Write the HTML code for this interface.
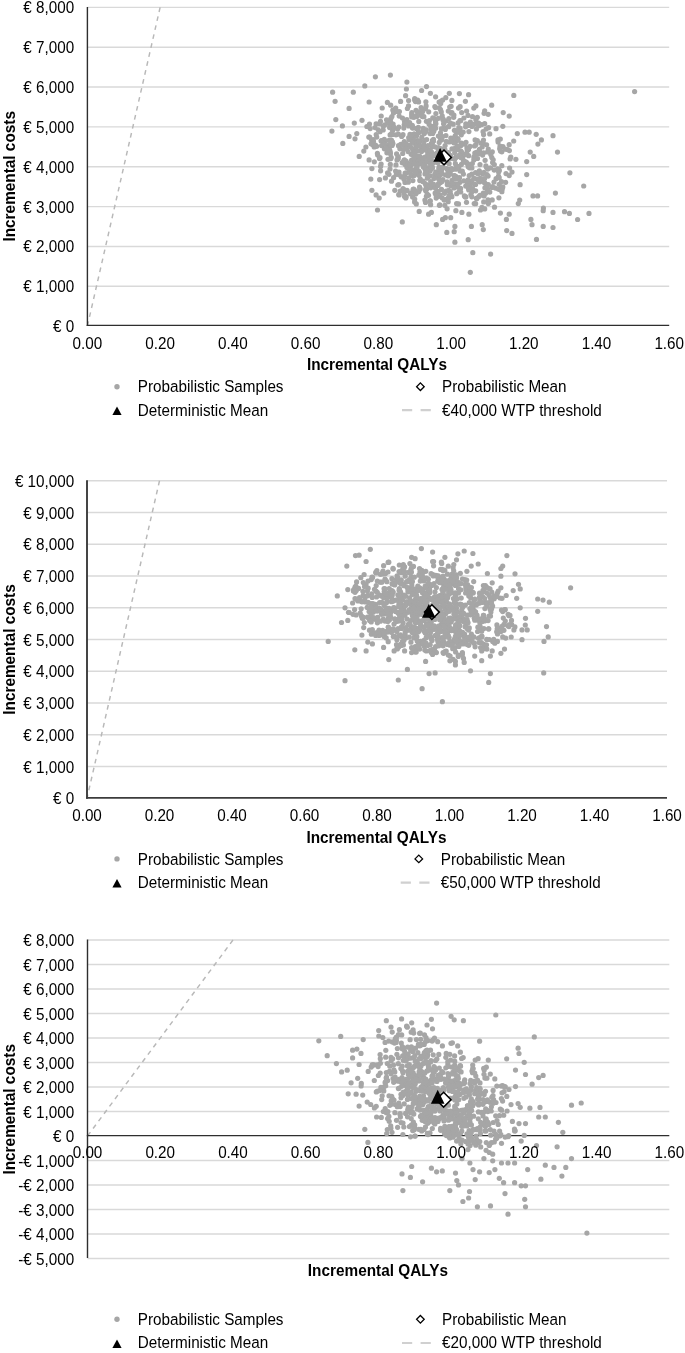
<!DOCTYPE html>
<html><head><meta charset="utf-8"><style>html,body{margin:0;padding:0;background:#fff}svg{display:block;will-change:transform}</style></head>
<body><svg width="685" height="1353" viewBox="0 0 685 1353">
<rect width="685" height="1353" fill="#fff"/>
<line x1="87.40" y1="286.26" x2="669.20" y2="286.26" stroke="#d9d9d9" stroke-width="1.4"/>
<line x1="87.40" y1="246.43" x2="669.20" y2="246.43" stroke="#d9d9d9" stroke-width="1.4"/>
<line x1="87.40" y1="206.59" x2="669.20" y2="206.59" stroke="#d9d9d9" stroke-width="1.4"/>
<line x1="87.40" y1="166.75" x2="669.20" y2="166.75" stroke="#d9d9d9" stroke-width="1.4"/>
<line x1="87.40" y1="126.91" x2="669.20" y2="126.91" stroke="#d9d9d9" stroke-width="1.4"/>
<line x1="87.40" y1="87.07" x2="669.20" y2="87.07" stroke="#d9d9d9" stroke-width="1.4"/>
<line x1="87.40" y1="47.24" x2="669.20" y2="47.24" stroke="#d9d9d9" stroke-width="1.4"/>
<line x1="87.40" y1="7.40" x2="669.20" y2="7.40" stroke="#d9d9d9" stroke-width="1.4"/>
<line x1="160.12" y1="7.40" x2="87.40" y2="326.10" stroke="#b8b8b8" stroke-width="1.45" stroke-dasharray="4.7 4.5"/>
<line x1="86.70" y1="325.40" x2="669.20" y2="325.40" stroke="#2e2e2e" stroke-width="1.4"/>
<line x1="87.40" y1="6.90" x2="87.40" y2="326.10" stroke="#2e2e2e" stroke-width="1.4"/>
<g fill="#a6a6a6"><circle cx="468.6" cy="155.7" r="2.6"/><circle cx="457.7" cy="186.9" r="2.6"/><circle cx="432.6" cy="184.6" r="2.6"/><circle cx="409.1" cy="139.7" r="2.6"/><circle cx="452.0" cy="180.4" r="2.6"/><circle cx="403.0" cy="134.7" r="2.6"/><circle cx="438.1" cy="184.2" r="2.6"/><circle cx="478.6" cy="123.1" r="2.6"/><circle cx="461.3" cy="134.8" r="2.6"/><circle cx="411.8" cy="175.5" r="2.6"/><circle cx="447.1" cy="181.9" r="2.6"/><circle cx="392.6" cy="130.6" r="2.6"/><circle cx="474.5" cy="184.3" r="2.6"/><circle cx="413.2" cy="191.6" r="2.6"/><circle cx="510.8" cy="157.0" r="2.6"/><circle cx="404.4" cy="159.8" r="2.6"/><circle cx="441.5" cy="189.4" r="2.6"/><circle cx="461.4" cy="164.4" r="2.6"/><circle cx="435.3" cy="119.6" r="2.6"/><circle cx="412.6" cy="142.3" r="2.6"/><circle cx="423.4" cy="129.4" r="2.6"/><circle cx="379.5" cy="158.6" r="2.6"/><circle cx="440.0" cy="182.7" r="2.6"/><circle cx="391.2" cy="157.4" r="2.6"/><circle cx="458.1" cy="122.9" r="2.6"/><circle cx="499.7" cy="189.6" r="2.6"/><circle cx="471.9" cy="181.2" r="2.6"/><circle cx="443.6" cy="150.1" r="2.6"/><circle cx="470.1" cy="184.2" r="2.6"/><circle cx="426.4" cy="148.1" r="2.6"/><circle cx="468.0" cy="115.4" r="2.6"/><circle cx="447.1" cy="208.8" r="2.6"/><circle cx="488.3" cy="149.0" r="2.6"/><circle cx="422.5" cy="116.6" r="2.6"/><circle cx="457.8" cy="149.5" r="2.6"/><circle cx="416.0" cy="192.4" r="2.6"/><circle cx="426.5" cy="189.3" r="2.6"/><circle cx="455.8" cy="176.3" r="2.6"/><circle cx="460.6" cy="188.4" r="2.6"/><circle cx="392.6" cy="134.4" r="2.6"/><circle cx="483.5" cy="143.8" r="2.6"/><circle cx="478.8" cy="125.7" r="2.6"/><circle cx="467.6" cy="163.7" r="2.6"/><circle cx="432.5" cy="140.3" r="2.6"/><circle cx="380.0" cy="157.7" r="2.6"/><circle cx="480.8" cy="143.0" r="2.6"/><circle cx="410.4" cy="168.5" r="2.6"/><circle cx="411.2" cy="154.3" r="2.6"/><circle cx="451.9" cy="100.4" r="2.6"/><circle cx="395.4" cy="109.6" r="2.6"/><circle cx="440.3" cy="138.1" r="2.6"/><circle cx="399.2" cy="174.8" r="2.6"/><circle cx="420.9" cy="162.6" r="2.6"/><circle cx="441.6" cy="139.4" r="2.6"/><circle cx="454.6" cy="142.4" r="2.6"/><circle cx="421.1" cy="150.4" r="2.6"/><circle cx="486.6" cy="144.8" r="2.6"/><circle cx="457.1" cy="140.6" r="2.6"/><circle cx="433.8" cy="131.3" r="2.6"/><circle cx="502.9" cy="146.5" r="2.6"/><circle cx="376.2" cy="134.6" r="2.6"/><circle cx="496.1" cy="178.7" r="2.6"/><circle cx="409.6" cy="167.6" r="2.6"/><circle cx="414.0" cy="157.7" r="2.6"/><circle cx="392.1" cy="145.4" r="2.6"/><circle cx="425.5" cy="146.3" r="2.6"/><circle cx="422.3" cy="112.0" r="2.6"/><circle cx="408.7" cy="124.5" r="2.6"/><circle cx="487.6" cy="190.0" r="2.6"/><circle cx="412.5" cy="128.1" r="2.6"/><circle cx="444.8" cy="162.5" r="2.6"/><circle cx="474.2" cy="203.6" r="2.6"/><circle cx="426.4" cy="196.3" r="2.6"/><circle cx="424.3" cy="133.6" r="2.6"/><circle cx="417.7" cy="171.8" r="2.6"/><circle cx="454.9" cy="148.3" r="2.6"/><circle cx="393.6" cy="177.7" r="2.6"/><circle cx="391.5" cy="181.2" r="2.6"/><circle cx="448.7" cy="190.4" r="2.6"/><circle cx="374.2" cy="147.0" r="2.6"/><circle cx="416.0" cy="147.2" r="2.6"/><circle cx="488.0" cy="199.8" r="2.6"/><circle cx="418.7" cy="174.8" r="2.6"/><circle cx="431.4" cy="155.6" r="2.6"/><circle cx="420.2" cy="140.9" r="2.6"/><circle cx="381.3" cy="140.7" r="2.6"/><circle cx="418.5" cy="170.9" r="2.6"/><circle cx="500.5" cy="151.1" r="2.6"/><circle cx="430.1" cy="133.6" r="2.6"/><circle cx="435.6" cy="128.2" r="2.6"/><circle cx="455.8" cy="169.2" r="2.6"/><circle cx="489.8" cy="192.1" r="2.6"/><circle cx="452.4" cy="169.5" r="2.6"/><circle cx="484.0" cy="172.3" r="2.6"/><circle cx="430.7" cy="187.8" r="2.6"/><circle cx="444.0" cy="127.7" r="2.6"/><circle cx="412.4" cy="139.4" r="2.6"/><circle cx="431.6" cy="152.2" r="2.6"/><circle cx="406.1" cy="196.8" r="2.6"/><circle cx="454.4" cy="130.3" r="2.6"/><circle cx="475.8" cy="144.7" r="2.6"/><circle cx="436.2" cy="198.1" r="2.6"/><circle cx="413.9" cy="162.2" r="2.6"/><circle cx="425.7" cy="190.7" r="2.6"/><circle cx="443.1" cy="167.1" r="2.6"/><circle cx="416.9" cy="166.9" r="2.6"/><circle cx="441.4" cy="170.4" r="2.6"/><circle cx="430.4" cy="184.3" r="2.6"/><circle cx="423.2" cy="128.4" r="2.6"/><circle cx="386.9" cy="152.8" r="2.6"/><circle cx="477.3" cy="140.7" r="2.6"/><circle cx="430.7" cy="163.9" r="2.6"/><circle cx="426.2" cy="129.8" r="2.6"/><circle cx="425.9" cy="131.6" r="2.6"/><circle cx="414.1" cy="162.3" r="2.6"/><circle cx="468.8" cy="190.0" r="2.6"/><circle cx="461.0" cy="131.9" r="2.6"/><circle cx="444.9" cy="149.6" r="2.6"/><circle cx="404.3" cy="141.7" r="2.6"/><circle cx="464.0" cy="154.7" r="2.6"/><circle cx="392.9" cy="143.6" r="2.6"/><circle cx="448.3" cy="111.1" r="2.6"/><circle cx="499.2" cy="184.3" r="2.6"/><circle cx="479.8" cy="152.0" r="2.6"/><circle cx="426.4" cy="121.3" r="2.6"/><circle cx="473.8" cy="108.1" r="2.6"/><circle cx="418.8" cy="191.6" r="2.6"/><circle cx="381.2" cy="116.0" r="2.6"/><circle cx="469.5" cy="186.6" r="2.6"/><circle cx="461.7" cy="152.6" r="2.6"/><circle cx="441.5" cy="180.8" r="2.6"/><circle cx="371.7" cy="140.3" r="2.6"/><circle cx="432.4" cy="186.2" r="2.6"/><circle cx="440.5" cy="109.5" r="2.6"/><circle cx="399.4" cy="111.5" r="2.6"/><circle cx="430.9" cy="129.4" r="2.6"/><circle cx="439.4" cy="205.3" r="2.6"/><circle cx="475.9" cy="119.7" r="2.6"/><circle cx="374.3" cy="161.8" r="2.6"/><circle cx="442.2" cy="115.9" r="2.6"/><circle cx="500.0" cy="146.2" r="2.6"/><circle cx="419.0" cy="161.1" r="2.6"/><circle cx="465.9" cy="196.9" r="2.6"/><circle cx="399.9" cy="148.8" r="2.6"/><circle cx="393.9" cy="127.8" r="2.6"/><circle cx="439.0" cy="175.9" r="2.6"/><circle cx="430.9" cy="185.9" r="2.6"/><circle cx="466.6" cy="111.0" r="2.6"/><circle cx="434.6" cy="174.8" r="2.6"/><circle cx="498.1" cy="142.1" r="2.6"/><circle cx="475.7" cy="190.8" r="2.6"/><circle cx="415.7" cy="171.3" r="2.6"/><circle cx="406.4" cy="89.0" r="2.6"/><circle cx="451.1" cy="106.3" r="2.6"/><circle cx="440.8" cy="148.7" r="2.6"/><circle cx="393.1" cy="124.0" r="2.6"/><circle cx="405.8" cy="197.9" r="2.6"/><circle cx="469.5" cy="167.8" r="2.6"/><circle cx="404.7" cy="163.2" r="2.6"/><circle cx="425.0" cy="173.9" r="2.6"/><circle cx="502.8" cy="126.3" r="2.6"/><circle cx="486.6" cy="167.5" r="2.6"/><circle cx="486.0" cy="184.1" r="2.6"/><circle cx="441.3" cy="111.9" r="2.6"/><circle cx="465.6" cy="126.8" r="2.6"/><circle cx="418.6" cy="101.9" r="2.6"/><circle cx="398.5" cy="145.7" r="2.6"/><circle cx="447.3" cy="184.8" r="2.6"/><circle cx="442.6" cy="100.0" r="2.6"/><circle cx="439.5" cy="150.2" r="2.6"/><circle cx="482.6" cy="179.2" r="2.6"/><circle cx="494.2" cy="170.1" r="2.6"/><circle cx="448.4" cy="152.5" r="2.6"/><circle cx="442.9" cy="179.7" r="2.6"/><circle cx="423.5" cy="131.9" r="2.6"/><circle cx="433.5" cy="139.3" r="2.6"/><circle cx="418.9" cy="144.8" r="2.6"/><circle cx="471.9" cy="168.0" r="2.6"/><circle cx="388.5" cy="144.9" r="2.6"/><circle cx="481.9" cy="207.3" r="2.6"/><circle cx="414.7" cy="98.7" r="2.6"/><circle cx="441.3" cy="139.9" r="2.6"/><circle cx="479.9" cy="181.8" r="2.6"/><circle cx="470.4" cy="122.2" r="2.6"/><circle cx="482.7" cy="173.9" r="2.6"/><circle cx="477.5" cy="158.5" r="2.6"/><circle cx="424.1" cy="148.6" r="2.6"/><circle cx="387.6" cy="172.9" r="2.6"/><circle cx="456.4" cy="167.5" r="2.6"/><circle cx="419.7" cy="112.6" r="2.6"/><circle cx="459.5" cy="177.7" r="2.6"/><circle cx="456.4" cy="132.2" r="2.6"/><circle cx="474.5" cy="146.0" r="2.6"/><circle cx="393.6" cy="110.0" r="2.6"/><circle cx="392.4" cy="141.8" r="2.6"/><circle cx="368.8" cy="137.0" r="2.6"/><circle cx="455.4" cy="142.0" r="2.6"/><circle cx="466.0" cy="142.3" r="2.6"/><circle cx="465.0" cy="196.8" r="2.6"/><circle cx="430.6" cy="126.0" r="2.6"/><circle cx="491.8" cy="157.6" r="2.6"/><circle cx="391.7" cy="143.8" r="2.6"/><circle cx="433.2" cy="141.1" r="2.6"/><circle cx="449.5" cy="169.4" r="2.6"/><circle cx="445.9" cy="135.5" r="2.6"/><circle cx="468.5" cy="188.4" r="2.6"/><circle cx="430.7" cy="181.6" r="2.6"/><circle cx="489.7" cy="133.9" r="2.6"/><circle cx="389.8" cy="125.3" r="2.6"/><circle cx="479.3" cy="170.8" r="2.6"/><circle cx="396.0" cy="134.8" r="2.6"/><circle cx="449.1" cy="183.8" r="2.6"/><circle cx="402.7" cy="153.5" r="2.6"/><circle cx="476.3" cy="198.3" r="2.6"/><circle cx="429.9" cy="201.2" r="2.6"/><circle cx="390.7" cy="158.7" r="2.6"/><circle cx="424.7" cy="130.3" r="2.6"/><circle cx="433.6" cy="162.8" r="2.6"/><circle cx="486.1" cy="129.0" r="2.6"/><circle cx="420.2" cy="188.9" r="2.6"/><circle cx="402.2" cy="162.7" r="2.6"/><circle cx="413.1" cy="189.3" r="2.6"/><circle cx="451.9" cy="112.5" r="2.6"/><circle cx="389.6" cy="127.6" r="2.6"/><circle cx="488.1" cy="176.1" r="2.6"/><circle cx="419.4" cy="172.1" r="2.6"/><circle cx="436.4" cy="153.6" r="2.6"/><circle cx="393.5" cy="113.0" r="2.6"/><circle cx="415.6" cy="144.3" r="2.6"/><circle cx="431.4" cy="143.4" r="2.6"/><circle cx="417.8" cy="173.8" r="2.6"/><circle cx="411.9" cy="164.1" r="2.6"/><circle cx="495.5" cy="188.1" r="2.6"/><circle cx="509.2" cy="144.7" r="2.6"/><circle cx="463.4" cy="155.1" r="2.6"/><circle cx="460.1" cy="170.9" r="2.6"/><circle cx="418.4" cy="164.0" r="2.6"/><circle cx="478.0" cy="173.8" r="2.6"/><circle cx="427.3" cy="178.2" r="2.6"/><circle cx="457.8" cy="138.6" r="2.6"/><circle cx="466.5" cy="202.3" r="2.6"/><circle cx="416.0" cy="110.3" r="2.6"/><circle cx="438.0" cy="149.0" r="2.6"/><circle cx="413.2" cy="127.7" r="2.6"/><circle cx="444.2" cy="200.1" r="2.6"/><circle cx="475.6" cy="172.6" r="2.6"/><circle cx="398.4" cy="134.2" r="2.6"/><circle cx="388.0" cy="159.3" r="2.6"/><circle cx="498.0" cy="139.9" r="2.6"/><circle cx="412.9" cy="192.2" r="2.6"/><circle cx="438.3" cy="177.7" r="2.6"/><circle cx="502.2" cy="189.0" r="2.6"/><circle cx="412.9" cy="154.4" r="2.6"/><circle cx="398.2" cy="158.8" r="2.6"/><circle cx="474.1" cy="156.7" r="2.6"/><circle cx="463.8" cy="180.8" r="2.6"/><circle cx="463.9" cy="118.0" r="2.6"/><circle cx="480.1" cy="178.3" r="2.6"/><circle cx="437.2" cy="153.1" r="2.6"/><circle cx="492.6" cy="162.5" r="2.6"/><circle cx="406.9" cy="167.6" r="2.6"/><circle cx="442.1" cy="174.0" r="2.6"/><circle cx="422.9" cy="181.2" r="2.6"/><circle cx="501.9" cy="191.7" r="2.6"/><circle cx="428.5" cy="195.3" r="2.6"/><circle cx="481.6" cy="124.6" r="2.6"/><circle cx="476.7" cy="123.9" r="2.6"/><circle cx="499.3" cy="170.4" r="2.6"/><circle cx="405.1" cy="164.5" r="2.6"/><circle cx="436.0" cy="154.5" r="2.6"/><circle cx="441.7" cy="181.8" r="2.6"/><circle cx="430.8" cy="162.7" r="2.6"/><circle cx="467.9" cy="183.7" r="2.6"/><circle cx="440.2" cy="194.8" r="2.6"/><circle cx="449.1" cy="156.6" r="2.6"/><circle cx="430.0" cy="152.7" r="2.6"/><circle cx="414.0" cy="170.2" r="2.6"/><circle cx="464.7" cy="144.2" r="2.6"/><circle cx="464.4" cy="195.8" r="2.6"/><circle cx="433.4" cy="141.1" r="2.6"/><circle cx="432.0" cy="146.8" r="2.6"/><circle cx="505.6" cy="182.3" r="2.6"/><circle cx="457.0" cy="146.0" r="2.6"/><circle cx="483.1" cy="131.7" r="2.6"/><circle cx="450.3" cy="170.9" r="2.6"/><circle cx="459.2" cy="156.6" r="2.6"/><circle cx="389.7" cy="150.0" r="2.6"/><circle cx="493.2" cy="159.8" r="2.6"/><circle cx="469.2" cy="175.5" r="2.6"/><circle cx="498.6" cy="172.0" r="2.6"/><circle cx="406.3" cy="145.3" r="2.6"/><circle cx="492.3" cy="151.8" r="2.6"/><circle cx="427.5" cy="171.9" r="2.6"/><circle cx="401.7" cy="136.5" r="2.6"/><circle cx="416.3" cy="160.4" r="2.6"/><circle cx="494.3" cy="164.6" r="2.6"/><circle cx="413.7" cy="189.0" r="2.6"/><circle cx="405.5" cy="196.6" r="2.6"/><circle cx="418.3" cy="127.3" r="2.6"/><circle cx="406.1" cy="161.1" r="2.6"/><circle cx="464.1" cy="161.1" r="2.6"/><circle cx="449.6" cy="170.0" r="2.6"/><circle cx="453.1" cy="184.2" r="2.6"/><circle cx="456.3" cy="184.2" r="2.6"/><circle cx="440.5" cy="152.7" r="2.6"/><circle cx="443.6" cy="123.7" r="2.6"/><circle cx="420.3" cy="179.2" r="2.6"/><circle cx="498.5" cy="176.1" r="2.6"/><circle cx="407.9" cy="163.3" r="2.6"/><circle cx="389.0" cy="174.3" r="2.6"/><circle cx="398.3" cy="156.5" r="2.6"/><circle cx="439.2" cy="142.4" r="2.6"/><circle cx="474.6" cy="158.6" r="2.6"/><circle cx="472.0" cy="126.5" r="2.6"/><circle cx="498.8" cy="169.9" r="2.6"/><circle cx="479.4" cy="149.4" r="2.6"/><circle cx="445.8" cy="97.7" r="2.6"/><circle cx="499.2" cy="177.7" r="2.6"/><circle cx="416.6" cy="167.6" r="2.6"/><circle cx="429.0" cy="123.9" r="2.6"/><circle cx="404.2" cy="124.8" r="2.6"/><circle cx="414.1" cy="175.5" r="2.6"/><circle cx="472.5" cy="116.7" r="2.6"/><circle cx="426.1" cy="105.9" r="2.6"/><circle cx="404.0" cy="179.3" r="2.6"/><circle cx="453.7" cy="117.3" r="2.6"/><circle cx="396.0" cy="164.9" r="2.6"/><circle cx="509.6" cy="168.1" r="2.6"/><circle cx="427.7" cy="151.8" r="2.6"/><circle cx="404.7" cy="175.5" r="2.6"/><circle cx="416.2" cy="142.8" r="2.6"/><circle cx="454.3" cy="175.8" r="2.6"/><circle cx="416.8" cy="116.6" r="2.6"/><circle cx="423.9" cy="116.7" r="2.6"/><circle cx="449.5" cy="155.0" r="2.6"/><circle cx="425.6" cy="148.5" r="2.6"/><circle cx="454.0" cy="179.2" r="2.6"/><circle cx="396.3" cy="174.3" r="2.6"/><circle cx="479.5" cy="172.3" r="2.6"/><circle cx="468.9" cy="131.6" r="2.6"/><circle cx="459.2" cy="132.3" r="2.6"/><circle cx="447.5" cy="157.7" r="2.6"/><circle cx="390.8" cy="118.6" r="2.6"/><circle cx="380.6" cy="170.8" r="2.6"/><circle cx="417.4" cy="191.9" r="2.6"/><circle cx="393.8" cy="127.0" r="2.6"/><circle cx="460.1" cy="128.3" r="2.6"/><circle cx="483.7" cy="201.9" r="2.6"/><circle cx="430.2" cy="171.0" r="2.6"/><circle cx="413.1" cy="141.6" r="2.6"/><circle cx="465.1" cy="154.6" r="2.6"/><circle cx="454.5" cy="141.1" r="2.6"/><circle cx="461.2" cy="151.9" r="2.6"/><circle cx="399.0" cy="172.1" r="2.6"/><circle cx="390.7" cy="105.2" r="2.6"/><circle cx="391.9" cy="116.5" r="2.6"/><circle cx="441.1" cy="168.7" r="2.6"/><circle cx="478.6" cy="196.8" r="2.6"/><circle cx="389.0" cy="140.3" r="2.6"/><circle cx="513.7" cy="141.0" r="2.6"/><circle cx="397.5" cy="129.1" r="2.6"/><circle cx="376.7" cy="146.3" r="2.6"/><circle cx="460.7" cy="120.7" r="2.6"/><circle cx="507.6" cy="149.5" r="2.6"/><circle cx="460.7" cy="192.0" r="2.6"/><circle cx="456.2" cy="157.2" r="2.6"/><circle cx="380.5" cy="121.3" r="2.6"/><circle cx="425.5" cy="108.4" r="2.6"/><circle cx="431.9" cy="161.0" r="2.6"/><circle cx="476.4" cy="128.9" r="2.6"/><circle cx="460.7" cy="145.8" r="2.6"/><circle cx="416.3" cy="128.5" r="2.6"/><circle cx="424.4" cy="131.5" r="2.6"/><circle cx="501.8" cy="165.7" r="2.6"/><circle cx="408.6" cy="125.9" r="2.6"/><circle cx="419.0" cy="175.3" r="2.6"/><circle cx="442.9" cy="119.7" r="2.6"/><circle cx="412.3" cy="125.3" r="2.6"/><circle cx="434.6" cy="118.5" r="2.6"/><circle cx="492.5" cy="186.5" r="2.6"/><circle cx="484.1" cy="196.0" r="2.6"/><circle cx="385.4" cy="177.9" r="2.6"/><circle cx="439.3" cy="107.8" r="2.6"/><circle cx="392.8" cy="110.0" r="2.6"/><circle cx="471.8" cy="196.8" r="2.6"/><circle cx="420.1" cy="156.6" r="2.6"/><circle cx="416.2" cy="172.2" r="2.6"/><circle cx="488.6" cy="127.7" r="2.6"/><circle cx="414.5" cy="190.2" r="2.6"/><circle cx="466.9" cy="147.9" r="2.6"/><circle cx="462.3" cy="171.2" r="2.6"/><circle cx="460.0" cy="182.3" r="2.6"/><circle cx="420.5" cy="163.8" r="2.6"/><circle cx="402.5" cy="144.2" r="2.6"/><circle cx="400.7" cy="144.3" r="2.6"/><circle cx="468.2" cy="149.1" r="2.6"/><circle cx="479.3" cy="172.4" r="2.6"/><circle cx="474.8" cy="153.0" r="2.6"/><circle cx="383.2" cy="129.9" r="2.6"/><circle cx="381.6" cy="145.6" r="2.6"/><circle cx="406.9" cy="119.5" r="2.6"/><circle cx="388.7" cy="146.9" r="2.6"/><circle cx="414.7" cy="99.9" r="2.6"/><circle cx="408.6" cy="178.2" r="2.6"/><circle cx="462.6" cy="157.7" r="2.6"/><circle cx="460.4" cy="156.8" r="2.6"/><circle cx="488.3" cy="184.5" r="2.6"/><circle cx="463.5" cy="162.0" r="2.6"/><circle cx="499.7" cy="148.8" r="2.6"/><circle cx="411.6" cy="160.2" r="2.6"/><circle cx="458.8" cy="178.0" r="2.6"/><circle cx="430.3" cy="158.8" r="2.6"/><circle cx="424.6" cy="140.5" r="2.6"/><circle cx="488.6" cy="202.4" r="2.6"/><circle cx="439.3" cy="156.3" r="2.6"/><circle cx="453.2" cy="124.2" r="2.6"/><circle cx="461.7" cy="143.9" r="2.6"/><circle cx="421.8" cy="137.2" r="2.6"/><circle cx="468.0" cy="149.6" r="2.6"/><circle cx="492.2" cy="199.9" r="2.6"/><circle cx="435.4" cy="107.6" r="2.6"/><circle cx="484.7" cy="123.7" r="2.6"/><circle cx="501.8" cy="151.8" r="2.6"/><circle cx="451.0" cy="185.7" r="2.6"/><circle cx="423.1" cy="110.6" r="2.6"/><circle cx="412.6" cy="197.0" r="2.6"/><circle cx="398.8" cy="184.6" r="2.6"/><circle cx="390.5" cy="146.1" r="2.6"/><circle cx="401.3" cy="176.9" r="2.6"/><circle cx="469.9" cy="181.1" r="2.6"/><circle cx="399.2" cy="116.1" r="2.6"/><circle cx="408.7" cy="137.5" r="2.6"/><circle cx="450.4" cy="155.5" r="2.6"/><circle cx="405.6" cy="95.7" r="2.6"/><circle cx="416.5" cy="145.5" r="2.6"/><circle cx="449.1" cy="163.7" r="2.6"/><circle cx="484.1" cy="113.3" r="2.6"/><circle cx="370.2" cy="128.6" r="2.6"/><circle cx="412.8" cy="149.7" r="2.6"/><circle cx="429.4" cy="155.9" r="2.6"/><circle cx="446.6" cy="168.5" r="2.6"/><circle cx="387.4" cy="102.4" r="2.6"/><circle cx="455.7" cy="157.3" r="2.6"/><circle cx="482.2" cy="147.0" r="2.6"/><circle cx="440.4" cy="167.6" r="2.6"/><circle cx="445.3" cy="129.5" r="2.6"/><circle cx="408.6" cy="100.6" r="2.6"/><circle cx="431.0" cy="163.9" r="2.6"/><circle cx="386.5" cy="119.8" r="2.6"/><circle cx="428.7" cy="111.8" r="2.6"/><circle cx="475.6" cy="184.5" r="2.6"/><circle cx="475.6" cy="203.7" r="2.6"/><circle cx="441.8" cy="151.4" r="2.6"/><circle cx="458.7" cy="166.5" r="2.6"/><circle cx="432.3" cy="144.0" r="2.6"/><circle cx="484.5" cy="182.7" r="2.6"/><circle cx="487.8" cy="169.1" r="2.6"/><circle cx="435.9" cy="113.5" r="2.6"/><circle cx="414.4" cy="158.7" r="2.6"/><circle cx="444.8" cy="205.3" r="2.6"/><circle cx="416.6" cy="135.7" r="2.6"/><circle cx="497.7" cy="168.8" r="2.6"/><circle cx="450.2" cy="191.3" r="2.6"/><circle cx="435.9" cy="123.8" r="2.6"/><circle cx="446.3" cy="121.0" r="2.6"/><circle cx="411.8" cy="112.6" r="2.6"/><circle cx="430.0" cy="175.8" r="2.6"/><circle cx="418.8" cy="121.4" r="2.6"/><circle cx="433.8" cy="126.2" r="2.6"/><circle cx="414.5" cy="149.9" r="2.6"/><circle cx="380.6" cy="166.4" r="2.6"/><circle cx="482.6" cy="155.1" r="2.6"/><circle cx="441.7" cy="159.6" r="2.6"/><circle cx="468.2" cy="125.5" r="2.6"/><circle cx="377.4" cy="153.4" r="2.6"/><circle cx="434.0" cy="186.4" r="2.6"/><circle cx="448.2" cy="201.7" r="2.6"/><circle cx="448.6" cy="126.5" r="2.6"/><circle cx="447.8" cy="170.2" r="2.6"/><circle cx="378.2" cy="129.8" r="2.6"/><circle cx="460.9" cy="151.2" r="2.6"/><circle cx="387.6" cy="122.7" r="2.6"/><circle cx="466.3" cy="162.2" r="2.6"/><circle cx="506.0" cy="173.6" r="2.6"/><circle cx="450.8" cy="185.7" r="2.6"/><circle cx="458.5" cy="108.1" r="2.6"/><circle cx="440.7" cy="103.5" r="2.6"/><circle cx="427.2" cy="194.1" r="2.6"/><circle cx="445.6" cy="174.9" r="2.6"/><circle cx="415.1" cy="136.1" r="2.6"/><circle cx="390.3" cy="152.0" r="2.6"/><circle cx="483.3" cy="193.0" r="2.6"/><circle cx="390.0" cy="169.1" r="2.6"/><circle cx="467.2" cy="184.5" r="2.6"/><circle cx="373.1" cy="139.5" r="2.6"/><circle cx="414.1" cy="134.1" r="2.6"/><circle cx="391.6" cy="133.7" r="2.6"/><circle cx="468.5" cy="165.7" r="2.6"/><circle cx="440.0" cy="171.5" r="2.6"/><circle cx="434.9" cy="106.6" r="2.6"/><circle cx="468.0" cy="181.3" r="2.6"/><circle cx="417.1" cy="150.9" r="2.6"/><circle cx="435.1" cy="193.0" r="2.6"/><circle cx="451.7" cy="168.6" r="2.6"/><circle cx="384.3" cy="139.4" r="2.6"/><circle cx="390.1" cy="134.9" r="2.6"/><circle cx="462.3" cy="156.8" r="2.6"/><circle cx="465.4" cy="162.1" r="2.6"/><circle cx="498.3" cy="189.0" r="2.6"/><circle cx="458.7" cy="167.2" r="2.6"/><circle cx="438.9" cy="179.5" r="2.6"/><circle cx="385.1" cy="141.1" r="2.6"/><circle cx="479.9" cy="195.4" r="2.6"/><circle cx="438.3" cy="196.4" r="2.6"/><circle cx="456.7" cy="193.7" r="2.6"/><circle cx="411.0" cy="165.1" r="2.6"/><circle cx="419.5" cy="187.2" r="2.6"/><circle cx="446.1" cy="191.0" r="2.6"/><circle cx="452.0" cy="148.9" r="2.6"/><circle cx="427.7" cy="154.7" r="2.6"/><circle cx="412.9" cy="180.6" r="2.6"/><circle cx="407.1" cy="190.4" r="2.6"/><circle cx="472.3" cy="163.5" r="2.6"/><circle cx="417.3" cy="140.6" r="2.6"/><circle cx="440.8" cy="172.8" r="2.6"/><circle cx="435.0" cy="146.8" r="2.6"/><circle cx="459.2" cy="191.1" r="2.6"/><circle cx="442.3" cy="198.0" r="2.6"/><circle cx="501.4" cy="187.3" r="2.6"/><circle cx="421.1" cy="107.7" r="2.6"/><circle cx="376.7" cy="137.1" r="2.6"/><circle cx="372.8" cy="144.8" r="2.6"/><circle cx="397.8" cy="185.0" r="2.6"/><circle cx="448.2" cy="176.0" r="2.6"/><circle cx="461.5" cy="143.0" r="2.6"/><circle cx="413.9" cy="117.3" r="2.6"/><circle cx="441.4" cy="128.9" r="2.6"/><circle cx="446.2" cy="141.3" r="2.6"/><circle cx="381.2" cy="141.1" r="2.6"/><circle cx="406.6" cy="172.8" r="2.6"/><circle cx="435.6" cy="121.9" r="2.6"/><circle cx="485.6" cy="193.2" r="2.6"/><circle cx="467.2" cy="150.6" r="2.6"/><circle cx="424.8" cy="161.6" r="2.6"/><circle cx="487.7" cy="188.9" r="2.6"/><circle cx="431.2" cy="157.6" r="2.6"/><circle cx="457.6" cy="166.5" r="2.6"/><circle cx="490.5" cy="167.8" r="2.6"/><circle cx="403.2" cy="144.8" r="2.6"/><circle cx="416.3" cy="203.9" r="2.6"/><circle cx="436.7" cy="192.2" r="2.6"/><circle cx="477.5" cy="153.4" r="2.6"/><circle cx="418.5" cy="141.0" r="2.6"/><circle cx="438.3" cy="118.3" r="2.6"/><circle cx="459.9" cy="120.5" r="2.6"/><circle cx="408.5" cy="105.9" r="2.6"/><circle cx="443.8" cy="150.3" r="2.6"/><circle cx="397.9" cy="157.1" r="2.6"/><circle cx="490.8" cy="154.5" r="2.6"/><circle cx="384.7" cy="124.9" r="2.6"/><circle cx="425.0" cy="157.2" r="2.6"/><circle cx="430.2" cy="149.9" r="2.6"/><circle cx="448.5" cy="126.7" r="2.6"/><circle cx="403.0" cy="188.5" r="2.6"/><circle cx="457.8" cy="185.0" r="2.6"/><circle cx="428.2" cy="161.7" r="2.6"/><circle cx="457.7" cy="149.2" r="2.6"/><circle cx="448.9" cy="197.6" r="2.6"/><circle cx="466.7" cy="153.2" r="2.6"/><circle cx="438.4" cy="136.1" r="2.6"/><circle cx="450.7" cy="169.9" r="2.6"/><circle cx="427.2" cy="161.5" r="2.6"/><circle cx="448.4" cy="174.2" r="2.6"/><circle cx="376.1" cy="123.8" r="2.6"/><circle cx="435.7" cy="172.2" r="2.6"/><circle cx="447.4" cy="174.5" r="2.6"/><circle cx="432.7" cy="133.4" r="2.6"/><circle cx="439.5" cy="175.2" r="2.6"/><circle cx="405.1" cy="173.1" r="2.6"/><circle cx="390.4" cy="153.8" r="2.6"/><circle cx="412.0" cy="136.3" r="2.6"/><circle cx="430.3" cy="200.8" r="2.6"/><circle cx="496.0" cy="128.7" r="2.6"/><circle cx="432.3" cy="167.1" r="2.6"/><circle cx="409.4" cy="169.5" r="2.6"/><circle cx="453.8" cy="142.8" r="2.6"/><circle cx="455.4" cy="163.7" r="2.6"/><circle cx="465.8" cy="123.8" r="2.6"/><circle cx="404.5" cy="121.5" r="2.6"/><circle cx="375.0" cy="127.6" r="2.6"/><circle cx="465.7" cy="186.1" r="2.6"/><circle cx="407.4" cy="108.5" r="2.6"/><circle cx="476.4" cy="179.1" r="2.6"/><circle cx="410.8" cy="174.1" r="2.6"/><circle cx="403.9" cy="160.7" r="2.6"/><circle cx="458.5" cy="203.9" r="2.6"/><circle cx="423.5" cy="167.3" r="2.6"/><circle cx="449.1" cy="142.0" r="2.6"/><circle cx="409.7" cy="164.7" r="2.6"/><circle cx="463.2" cy="132.0" r="2.6"/><circle cx="470.9" cy="194.6" r="2.6"/><circle cx="468.1" cy="179.8" r="2.6"/><circle cx="468.3" cy="165.1" r="2.6"/><circle cx="458.1" cy="139.7" r="2.6"/><circle cx="384.3" cy="144.1" r="2.6"/><circle cx="419.9" cy="146.3" r="2.6"/><circle cx="409.6" cy="145.2" r="2.6"/><circle cx="425.9" cy="101.8" r="2.6"/><circle cx="365.9" cy="147.0" r="2.6"/><circle cx="498.9" cy="197.8" r="2.6"/><circle cx="461.7" cy="112.6" r="2.6"/><circle cx="414.2" cy="134.0" r="2.6"/><circle cx="456.7" cy="178.9" r="2.6"/><circle cx="382.2" cy="108.0" r="2.6"/><circle cx="477.3" cy="117.3" r="2.6"/><circle cx="416.3" cy="115.5" r="2.6"/><circle cx="510.1" cy="158.9" r="2.6"/><circle cx="425.4" cy="170.3" r="2.6"/><circle cx="437.9" cy="191.3" r="2.6"/><circle cx="423.6" cy="144.4" r="2.6"/><circle cx="443.2" cy="119.2" r="2.6"/><circle cx="415.1" cy="154.4" r="2.6"/><circle cx="485.9" cy="165.9" r="2.6"/><circle cx="440.5" cy="132.8" r="2.6"/><circle cx="473.8" cy="160.1" r="2.6"/><circle cx="418.8" cy="158.6" r="2.6"/><circle cx="435.5" cy="121.6" r="2.6"/><circle cx="414.2" cy="163.4" r="2.6"/><circle cx="476.8" cy="152.8" r="2.6"/><circle cx="433.9" cy="178.4" r="2.6"/><circle cx="418.4" cy="131.2" r="2.6"/><circle cx="435.5" cy="188.3" r="2.6"/><circle cx="421.5" cy="115.8" r="2.6"/><circle cx="375.5" cy="145.0" r="2.6"/><circle cx="409.6" cy="122.6" r="2.6"/><circle cx="433.4" cy="184.1" r="2.6"/><circle cx="400.2" cy="191.0" r="2.6"/><circle cx="509.4" cy="150.6" r="2.6"/><circle cx="468.2" cy="166.7" r="2.6"/><circle cx="466.5" cy="125.1" r="2.6"/><circle cx="398.8" cy="127.0" r="2.6"/><circle cx="377.7" cy="155.1" r="2.6"/><circle cx="439.8" cy="204.9" r="2.6"/><circle cx="413.6" cy="137.0" r="2.6"/><circle cx="432.8" cy="117.8" r="2.6"/><circle cx="455.3" cy="135.5" r="2.6"/><circle cx="463.5" cy="160.7" r="2.6"/><circle cx="442.7" cy="136.5" r="2.6"/><circle cx="366.9" cy="126.5" r="2.6"/><circle cx="505.2" cy="149.2" r="2.6"/><circle cx="471.8" cy="174.2" r="2.6"/><circle cx="431.0" cy="165.8" r="2.6"/><circle cx="395.6" cy="171.0" r="2.6"/><circle cx="473.5" cy="124.4" r="2.6"/><circle cx="411.1" cy="147.3" r="2.6"/><circle cx="501.5" cy="181.6" r="2.6"/><circle cx="431.1" cy="165.6" r="2.6"/><circle cx="443.5" cy="149.2" r="2.6"/><circle cx="459.6" cy="145.8" r="2.6"/><circle cx="373.5" cy="141.4" r="2.6"/><circle cx="459.3" cy="155.0" r="2.6"/><circle cx="419.0" cy="132.6" r="2.6"/><circle cx="425.3" cy="149.9" r="2.6"/><circle cx="438.1" cy="185.5" r="2.6"/><circle cx="450.7" cy="194.3" r="2.6"/><circle cx="415.6" cy="172.1" r="2.6"/><circle cx="438.8" cy="169.1" r="2.6"/><circle cx="419.4" cy="156.4" r="2.6"/><circle cx="475.1" cy="139.9" r="2.6"/><circle cx="403.8" cy="128.1" r="2.6"/><circle cx="451.4" cy="158.5" r="2.6"/><circle cx="492.1" cy="187.5" r="2.6"/><circle cx="417.6" cy="111.8" r="2.6"/><circle cx="476.5" cy="152.4" r="2.6"/><circle cx="442.9" cy="161.8" r="2.6"/><circle cx="406.2" cy="123.2" r="2.6"/><circle cx="426.7" cy="139.5" r="2.6"/><circle cx="458.9" cy="127.7" r="2.6"/><circle cx="472.6" cy="188.5" r="2.6"/><circle cx="397.0" cy="159.9" r="2.6"/><circle cx="467.4" cy="180.8" r="2.6"/><circle cx="410.3" cy="193.8" r="2.6"/><circle cx="446.4" cy="199.3" r="2.6"/><circle cx="452.8" cy="184.8" r="2.6"/><circle cx="454.4" cy="175.7" r="2.6"/><circle cx="450.4" cy="174.1" r="2.6"/><circle cx="450.5" cy="123.0" r="2.6"/><circle cx="485.1" cy="160.3" r="2.6"/><circle cx="425.2" cy="183.6" r="2.6"/><circle cx="439.1" cy="167.2" r="2.6"/><circle cx="453.9" cy="115.1" r="2.6"/><circle cx="388.2" cy="149.8" r="2.6"/><circle cx="419.8" cy="180.6" r="2.6"/><circle cx="463.4" cy="174.1" r="2.6"/><circle cx="483.5" cy="140.0" r="2.6"/><circle cx="391.4" cy="140.0" r="2.6"/><circle cx="454.7" cy="152.8" r="2.6"/><circle cx="433.3" cy="155.8" r="2.6"/><circle cx="470.0" cy="146.4" r="2.6"/><circle cx="369.5" cy="124.1" r="2.6"/><circle cx="444.5" cy="161.4" r="2.6"/><circle cx="405.0" cy="182.5" r="2.6"/><circle cx="383.3" cy="126.1" r="2.6"/><circle cx="402.5" cy="118.0" r="2.6"/><circle cx="442.4" cy="167.8" r="2.6"/><circle cx="384.4" cy="148.8" r="2.6"/><circle cx="449.7" cy="107.1" r="2.6"/><circle cx="408.1" cy="151.6" r="2.6"/><circle cx="451.9" cy="196.7" r="2.6"/><circle cx="450.8" cy="138.1" r="2.6"/><circle cx="494.0" cy="182.1" r="2.6"/><circle cx="463.5" cy="161.1" r="2.6"/><circle cx="381.1" cy="164.1" r="2.6"/><circle cx="449.1" cy="195.4" r="2.6"/><circle cx="400.6" cy="101.4" r="2.6"/><circle cx="417.7" cy="100.2" r="2.6"/><circle cx="448.5" cy="198.0" r="2.6"/><circle cx="448.9" cy="118.5" r="2.6"/><circle cx="380.0" cy="131.7" r="2.6"/><circle cx="478.7" cy="180.8" r="2.6"/><circle cx="471.9" cy="191.7" r="2.6"/><circle cx="438.5" cy="147.6" r="2.6"/><circle cx="415.5" cy="101.6" r="2.6"/><circle cx="453.2" cy="138.2" r="2.6"/><circle cx="406.0" cy="143.9" r="2.6"/><circle cx="424.9" cy="200.0" r="2.6"/><circle cx="454.7" cy="159.2" r="2.6"/><circle cx="394.8" cy="190.3" r="2.6"/><circle cx="422.0" cy="158.4" r="2.6"/><circle cx="437.5" cy="160.5" r="2.6"/><circle cx="404.5" cy="196.5" r="2.6"/><circle cx="474.0" cy="157.7" r="2.6"/><circle cx="427.6" cy="168.1" r="2.6"/><circle cx="425.5" cy="202.5" r="2.6"/><circle cx="426.1" cy="173.4" r="2.6"/><circle cx="390.9" cy="144.0" r="2.6"/><circle cx="411.7" cy="114.5" r="2.6"/><circle cx="429.4" cy="120.5" r="2.6"/><circle cx="445.1" cy="153.1" r="2.6"/><circle cx="435.9" cy="194.8" r="2.6"/><circle cx="469.8" cy="123.3" r="2.6"/><circle cx="473.8" cy="178.2" r="2.6"/><circle cx="430.6" cy="204.7" r="2.6"/><circle cx="451.2" cy="141.3" r="2.6"/><circle cx="468.4" cy="149.5" r="2.6"/><circle cx="458.2" cy="130.0" r="2.6"/><circle cx="421.5" cy="151.5" r="2.6"/><circle cx="411.7" cy="116.9" r="2.6"/><circle cx="412.4" cy="170.0" r="2.6"/><circle cx="426.3" cy="186.2" r="2.6"/><circle cx="369.7" cy="137.2" r="2.6"/><circle cx="425.6" cy="189.4" r="2.6"/><circle cx="451.3" cy="113.2" r="2.6"/><circle cx="371.0" cy="143.8" r="2.6"/><circle cx="415.7" cy="193.9" r="2.6"/><circle cx="396.6" cy="153.8" r="2.6"/><circle cx="390.6" cy="121.9" r="2.6"/><circle cx="437.9" cy="162.8" r="2.6"/><circle cx="396.8" cy="111.4" r="2.6"/><circle cx="487.6" cy="151.9" r="2.6"/><circle cx="425.1" cy="165.2" r="2.6"/><circle cx="444.5" cy="193.3" r="2.6"/><circle cx="487.0" cy="174.6" r="2.6"/><circle cx="483.6" cy="134.6" r="2.6"/><circle cx="379.6" cy="123.7" r="2.6"/><circle cx="484.6" cy="178.5" r="2.6"/><circle cx="476.7" cy="198.7" r="2.6"/><circle cx="379.6" cy="179.6" r="2.6"/><circle cx="410.0" cy="134.3" r="2.6"/><circle cx="454.0" cy="187.9" r="2.6"/><circle cx="418.6" cy="156.2" r="2.6"/><circle cx="429.0" cy="158.6" r="2.6"/><circle cx="500.3" cy="139.0" r="2.6"/><circle cx="432.4" cy="168.3" r="2.6"/><circle cx="390.3" cy="164.4" r="2.6"/><circle cx="460.1" cy="106.7" r="2.6"/><circle cx="441.1" cy="171.7" r="2.6"/><circle cx="428.3" cy="176.8" r="2.6"/><circle cx="488.2" cy="114.3" r="2.6"/><circle cx="478.3" cy="153.9" r="2.6"/><circle cx="483.6" cy="152.8" r="2.6"/><circle cx="425.9" cy="184.5" r="2.6"/><circle cx="484.9" cy="187.8" r="2.6"/><circle cx="422.9" cy="181.6" r="2.6"/><circle cx="502.8" cy="186.9" r="2.6"/><circle cx="480.0" cy="164.6" r="2.6"/><circle cx="386.3" cy="148.0" r="2.6"/><circle cx="461.3" cy="157.7" r="2.6"/><circle cx="399.1" cy="194.9" r="2.6"/><circle cx="515.9" cy="159.3" r="2.6"/><circle cx="403.5" cy="149.4" r="2.6"/><circle cx="414.7" cy="199.0" r="2.6"/><circle cx="445.1" cy="145.5" r="2.6"/><circle cx="411.9" cy="134.8" r="2.6"/><circle cx="406.5" cy="148.7" r="2.6"/><circle cx="395.7" cy="108.0" r="2.6"/><circle cx="431.3" cy="168.2" r="2.6"/><circle cx="404.3" cy="189.9" r="2.6"/><circle cx="408.3" cy="182.2" r="2.6"/><circle cx="428.0" cy="145.5" r="2.6"/><circle cx="375.4" cy="76.8" r="2.6"/><circle cx="390.4" cy="75.1" r="2.6"/><circle cx="364.8" cy="85.9" r="2.6"/><circle cx="406.9" cy="82.1" r="2.6"/><circle cx="426.5" cy="86.6" r="2.6"/><circle cx="421.6" cy="90.5" r="2.6"/><circle cx="332.6" cy="92.2" r="2.6"/><circle cx="353.3" cy="92.2" r="2.6"/><circle cx="335.1" cy="101.3" r="2.6"/><circle cx="349.1" cy="108.4" r="2.6"/><circle cx="369.1" cy="102.0" r="2.6"/><circle cx="513.8" cy="95.4" r="2.6"/><circle cx="468.6" cy="94.7" r="2.6"/><circle cx="459.4" cy="93.6" r="2.6"/><circle cx="449.3" cy="93.3" r="2.6"/><circle cx="465.4" cy="101.3" r="2.6"/><circle cx="475.9" cy="105.9" r="2.6"/><circle cx="491.7" cy="105.2" r="2.6"/><circle cx="484.7" cy="110.8" r="2.6"/><circle cx="503.2" cy="112.6" r="2.6"/><circle cx="509.2" cy="116.1" r="2.6"/><circle cx="430.4" cy="93.3" r="2.6"/><circle cx="435.6" cy="96.8" r="2.6"/><circle cx="439.1" cy="102.0" r="2.6"/><circle cx="440.9" cy="101.3" r="2.6"/><circle cx="335.8" cy="119.6" r="2.6"/><circle cx="331.9" cy="131.1" r="2.6"/><circle cx="342.4" cy="125.9" r="2.6"/><circle cx="342.8" cy="143.4" r="2.6"/><circle cx="349.1" cy="136.4" r="2.6"/><circle cx="355.0" cy="138.8" r="2.6"/><circle cx="354.3" cy="123.1" r="2.6"/><circle cx="356.8" cy="133.6" r="2.6"/><circle cx="362.0" cy="120.3" r="2.6"/><circle cx="359.2" cy="156.4" r="2.6"/><circle cx="363.8" cy="151.1" r="2.6"/><circle cx="369.1" cy="159.9" r="2.6"/><circle cx="371.9" cy="168.6" r="2.6"/><circle cx="370.8" cy="179.1" r="2.6"/><circle cx="371.9" cy="190.3" r="2.6"/><circle cx="376.1" cy="194.9" r="2.6"/><circle cx="383.8" cy="193.1" r="2.6"/><circle cx="379.2" cy="198.0" r="2.6"/><circle cx="377.5" cy="210.0" r="2.6"/><circle cx="402.3" cy="221.9" r="2.6"/><circle cx="517.3" cy="133.6" r="2.6"/><circle cx="525.0" cy="132.2" r="2.6"/><circle cx="529.2" cy="132.2" r="2.6"/><circle cx="536.2" cy="134.3" r="2.6"/><circle cx="541.4" cy="139.9" r="2.6"/><circle cx="537.9" cy="144.1" r="2.6"/><circle cx="553.0" cy="135.7" r="2.6"/><circle cx="530.2" cy="152.1" r="2.6"/><circle cx="533.7" cy="156.4" r="2.6"/><circle cx="526.7" cy="161.6" r="2.6"/><circle cx="557.5" cy="152.1" r="2.6"/><circle cx="512.0" cy="172.1" r="2.6"/><circle cx="509.2" cy="175.6" r="2.6"/><circle cx="526.7" cy="174.6" r="2.6"/><circle cx="520.1" cy="184.7" r="2.6"/><circle cx="533.0" cy="195.9" r="2.6"/><circle cx="537.6" cy="195.9" r="2.6"/><circle cx="519.7" cy="200.1" r="2.6"/><circle cx="518.3" cy="203.6" r="2.6"/><circle cx="543.2" cy="210.7" r="2.6"/><circle cx="553.0" cy="212.4" r="2.6"/><circle cx="555.4" cy="193.1" r="2.6"/><circle cx="543.2" cy="226.4" r="2.6"/><circle cx="553.0" cy="227.5" r="2.6"/><circle cx="530.9" cy="219.4" r="2.6"/><circle cx="532.0" cy="224.7" r="2.6"/><circle cx="536.5" cy="239.4" r="2.6"/><circle cx="512.0" cy="233.4" r="2.6"/><circle cx="506.7" cy="230.6" r="2.6"/><circle cx="506.4" cy="219.4" r="2.6"/><circle cx="509.2" cy="214.2" r="2.6"/><circle cx="500.4" cy="213.1" r="2.6"/><circle cx="494.5" cy="207.2" r="2.6"/><circle cx="484.7" cy="208.9" r="2.6"/><circle cx="480.5" cy="210.0" r="2.6"/><circle cx="488.2" cy="203.6" r="2.6"/><circle cx="454.9" cy="242.2" r="2.6"/><circle cx="468.2" cy="239.7" r="2.6"/><circle cx="472.8" cy="252.7" r="2.6"/><circle cx="490.6" cy="254.1" r="2.6"/><circle cx="470.3" cy="272.3" r="2.6"/><circle cx="482.2" cy="224.7" r="2.6"/><circle cx="483.3" cy="229.6" r="2.6"/><circle cx="471.4" cy="226.4" r="2.6"/><circle cx="454.9" cy="226.4" r="2.6"/><circle cx="454.2" cy="231.7" r="2.6"/><circle cx="446.8" cy="232.4" r="2.6"/><circle cx="436.3" cy="224.7" r="2.6"/><circle cx="428.6" cy="214.2" r="2.6"/><circle cx="431.4" cy="212.4" r="2.6"/><circle cx="419.2" cy="211.4" r="2.6"/><circle cx="414.6" cy="201.9" r="2.6"/><circle cx="404.1" cy="193.1" r="2.6"/><circle cx="410.4" cy="193.1" r="2.6"/><circle cx="398.8" cy="194.5" r="2.6"/><circle cx="442.6" cy="219.4" r="2.6"/><circle cx="445.4" cy="217.7" r="2.6"/><circle cx="450.7" cy="217.7" r="2.6"/><circle cx="455.9" cy="210.7" r="2.6"/><circle cx="461.9" cy="212.4" r="2.6"/><circle cx="468.9" cy="214.2" r="2.6"/><circle cx="456.6" cy="203.6" r="2.6"/><circle cx="569.9" cy="172.8" r="2.6"/><circle cx="583.7" cy="186.0" r="2.6"/><circle cx="564.5" cy="211.7" r="2.6"/><circle cx="569.4" cy="213.4" r="2.6"/><circle cx="589.0" cy="213.4" r="2.6"/><circle cx="577.6" cy="219.5" r="2.6"/><circle cx="543.4" cy="208.0" r="2.6"/><circle cx="634.6" cy="91.6" r="2.6"/></g>
<path d="M444.0 150.0L451.4 157.4L444.0 164.8L436.6 157.4Z" fill="#fff" stroke="#000" stroke-width="1.5"/>
<path d="M440.12 148.02L446.92 161.82L433.32 161.82Z" fill="#000"/>
<circle cx="117" cy="386.70" r="2.7" fill="#a6a6a6"/>
<path d="M117 406.60L121.6 415.10L112.4 415.10Z" fill="#000"/>
<path d="M420.4 382.90L424.20 386.70L420.4 390.50L416.60 386.70Z" fill="#fff" stroke="#000" stroke-width="1.3"/>
<line x1="402.0" y1="410.20" x2="431.00" y2="410.20" stroke="#d0d0d0" stroke-width="2.2" stroke-dasharray="10.2 8.4"/>
<g font-family="Liberation Sans, sans-serif" font-size="15.25" fill="#000"><text transform="translate(74.20 332.10) scale(1 1.03)" text-anchor="end">€ 0</text><text transform="translate(74.20 292.26) scale(1 1.03)" text-anchor="end">€ 1,000</text><text transform="translate(74.20 252.43) scale(1 1.03)" text-anchor="end">€ 2,000</text><text transform="translate(74.20 212.59) scale(1 1.03)" text-anchor="end">€ 3,000</text><text transform="translate(74.20 172.75) scale(1 1.03)" text-anchor="end">€ 4,000</text><text transform="translate(74.20 132.91) scale(1 1.03)" text-anchor="end">€ 5,000</text><text transform="translate(74.20 93.07) scale(1 1.03)" text-anchor="end">€ 6,000</text><text transform="translate(74.20 53.24) scale(1 1.03)" text-anchor="end">€ 7,000</text><text transform="translate(74.20 13.40) scale(1 1.03)" text-anchor="end">€ 8,000</text><text transform="translate(87.40 348.60) scale(1 1.03)" text-anchor="middle">0.00</text><text transform="translate(160.12 348.60) scale(1 1.03)" text-anchor="middle">0.20</text><text transform="translate(232.85 348.60) scale(1 1.03)" text-anchor="middle">0.40</text><text transform="translate(305.58 348.60) scale(1 1.03)" text-anchor="middle">0.60</text><text transform="translate(378.30 348.60) scale(1 1.03)" text-anchor="middle">0.80</text><text transform="translate(451.02 348.60) scale(1 1.03)" text-anchor="middle">1.00</text><text transform="translate(523.75 348.60) scale(1 1.03)" text-anchor="middle">1.20</text><text transform="translate(596.48 348.60) scale(1 1.03)" text-anchor="middle">1.40</text><text transform="translate(669.20 348.60) scale(1 1.03)" text-anchor="middle">1.60</text><text transform="translate(377.00 370.20) scale(1 1.03)" text-anchor="middle" font-weight="bold" font-size="15.35">Incremental QALYs</text><text transform="translate(14.60 176.30) rotate(-90) scale(1 1.03)" text-anchor="middle" font-weight="bold" font-size="15.35">Incremental costs</text><text transform="translate(137.80 392.30) scale(1 1.03)">Probabilistic Samples</text><text transform="translate(137.80 415.60) scale(1 1.03)">Deterministic Mean</text><text transform="translate(442.00 392.30) scale(1 1.03)">Probabilistic Mean</text><text transform="translate(442.00 415.60) scale(1 1.03)">€40,000 WTP threshold</text></g>
<line x1="87.00" y1="766.50" x2="667.00" y2="766.50" stroke="#d9d9d9" stroke-width="1.4"/>
<line x1="87.00" y1="734.75" x2="667.00" y2="734.75" stroke="#d9d9d9" stroke-width="1.4"/>
<line x1="87.00" y1="703.00" x2="667.00" y2="703.00" stroke="#d9d9d9" stroke-width="1.4"/>
<line x1="87.00" y1="671.25" x2="667.00" y2="671.25" stroke="#d9d9d9" stroke-width="1.4"/>
<line x1="87.00" y1="639.50" x2="667.00" y2="639.50" stroke="#d9d9d9" stroke-width="1.4"/>
<line x1="87.00" y1="607.75" x2="667.00" y2="607.75" stroke="#d9d9d9" stroke-width="1.4"/>
<line x1="87.00" y1="576.00" x2="667.00" y2="576.00" stroke="#d9d9d9" stroke-width="1.4"/>
<line x1="87.00" y1="544.25" x2="667.00" y2="544.25" stroke="#d9d9d9" stroke-width="1.4"/>
<line x1="87.00" y1="512.50" x2="667.00" y2="512.50" stroke="#d9d9d9" stroke-width="1.4"/>
<line x1="87.00" y1="480.75" x2="667.00" y2="480.75" stroke="#d9d9d9" stroke-width="1.4"/>
<line x1="159.50" y1="480.75" x2="87.00" y2="798.25" stroke="#b8b8b8" stroke-width="1.45" stroke-dasharray="4.7 4.5"/>
<line x1="86.05" y1="797.90" x2="667.00" y2="797.90" stroke="#3c3c3c" stroke-width="1.9"/>
<line x1="87.00" y1="480.25" x2="87.00" y2="798.85" stroke="#3c3c3c" stroke-width="1.9"/>
<g fill="#a6a6a6"><circle cx="427.7" cy="645.5" r="2.6"/><circle cx="462.1" cy="634.9" r="2.6"/><circle cx="367.2" cy="607.4" r="2.6"/><circle cx="473.9" cy="610.3" r="2.6"/><circle cx="471.7" cy="609.1" r="2.6"/><circle cx="456.2" cy="632.7" r="2.6"/><circle cx="412.2" cy="594.6" r="2.6"/><circle cx="422.7" cy="591.0" r="2.6"/><circle cx="400.7" cy="601.6" r="2.6"/><circle cx="394.5" cy="636.3" r="2.6"/><circle cx="402.9" cy="566.4" r="2.6"/><circle cx="416.6" cy="617.3" r="2.6"/><circle cx="403.4" cy="614.1" r="2.6"/><circle cx="511.7" cy="624.5" r="2.6"/><circle cx="471.8" cy="606.7" r="2.6"/><circle cx="455.3" cy="631.2" r="2.6"/><circle cx="453.4" cy="598.5" r="2.6"/><circle cx="448.2" cy="643.3" r="2.6"/><circle cx="455.7" cy="581.0" r="2.6"/><circle cx="356.6" cy="581.9" r="2.6"/><circle cx="413.5" cy="604.8" r="2.6"/><circle cx="425.7" cy="633.2" r="2.6"/><circle cx="484.5" cy="618.6" r="2.6"/><circle cx="456.2" cy="574.9" r="2.6"/><circle cx="373.9" cy="618.8" r="2.6"/><circle cx="458.6" cy="635.0" r="2.6"/><circle cx="455.3" cy="636.9" r="2.6"/><circle cx="448.9" cy="630.7" r="2.6"/><circle cx="417.3" cy="620.0" r="2.6"/><circle cx="431.6" cy="585.6" r="2.6"/><circle cx="436.4" cy="587.6" r="2.6"/><circle cx="412.9" cy="606.2" r="2.6"/><circle cx="430.2" cy="644.7" r="2.6"/><circle cx="426.9" cy="602.4" r="2.6"/><circle cx="458.3" cy="655.0" r="2.6"/><circle cx="388.1" cy="562.4" r="2.6"/><circle cx="403.7" cy="607.3" r="2.6"/><circle cx="422.0" cy="590.9" r="2.6"/><circle cx="369.5" cy="630.2" r="2.6"/><circle cx="439.8" cy="598.2" r="2.6"/><circle cx="442.1" cy="623.6" r="2.6"/><circle cx="396.7" cy="631.5" r="2.6"/><circle cx="423.0" cy="572.6" r="2.6"/><circle cx="443.1" cy="645.8" r="2.6"/><circle cx="448.7" cy="618.4" r="2.6"/><circle cx="466.1" cy="624.3" r="2.6"/><circle cx="375.5" cy="604.3" r="2.6"/><circle cx="487.4" cy="573.5" r="2.6"/><circle cx="410.1" cy="581.4" r="2.6"/><circle cx="381.5" cy="614.3" r="2.6"/><circle cx="442.5" cy="621.2" r="2.6"/><circle cx="361.5" cy="601.5" r="2.6"/><circle cx="443.9" cy="642.2" r="2.6"/><circle cx="458.9" cy="638.4" r="2.6"/><circle cx="478.5" cy="638.2" r="2.6"/><circle cx="390.5" cy="612.9" r="2.6"/><circle cx="446.8" cy="602.1" r="2.6"/><circle cx="424.0" cy="640.4" r="2.6"/><circle cx="477.4" cy="603.8" r="2.6"/><circle cx="440.4" cy="619.4" r="2.6"/><circle cx="397.3" cy="649.0" r="2.6"/><circle cx="411.1" cy="627.9" r="2.6"/><circle cx="455.7" cy="585.4" r="2.6"/><circle cx="414.6" cy="614.3" r="2.6"/><circle cx="433.3" cy="610.1" r="2.6"/><circle cx="413.6" cy="631.8" r="2.6"/><circle cx="488.6" cy="628.8" r="2.6"/><circle cx="394.0" cy="624.1" r="2.6"/><circle cx="430.8" cy="626.2" r="2.6"/><circle cx="387.2" cy="601.5" r="2.6"/><circle cx="467.6" cy="644.5" r="2.6"/><circle cx="454.4" cy="602.4" r="2.6"/><circle cx="422.0" cy="599.7" r="2.6"/><circle cx="435.0" cy="591.8" r="2.6"/><circle cx="388.4" cy="617.9" r="2.6"/><circle cx="496.9" cy="624.9" r="2.6"/><circle cx="437.7" cy="581.0" r="2.6"/><circle cx="371.3" cy="579.6" r="2.6"/><circle cx="412.7" cy="614.7" r="2.6"/><circle cx="434.8" cy="619.5" r="2.6"/><circle cx="403.3" cy="564.7" r="2.6"/><circle cx="411.6" cy="647.7" r="2.6"/><circle cx="428.3" cy="609.1" r="2.6"/><circle cx="369.1" cy="611.6" r="2.6"/><circle cx="449.9" cy="641.4" r="2.6"/><circle cx="455.0" cy="647.7" r="2.6"/><circle cx="445.7" cy="613.8" r="2.6"/><circle cx="437.6" cy="640.1" r="2.6"/><circle cx="422.2" cy="591.6" r="2.6"/><circle cx="456.3" cy="604.0" r="2.6"/><circle cx="461.3" cy="615.3" r="2.6"/><circle cx="430.1" cy="627.6" r="2.6"/><circle cx="438.9" cy="616.0" r="2.6"/><circle cx="402.4" cy="641.7" r="2.6"/><circle cx="485.4" cy="585.5" r="2.6"/><circle cx="467.6" cy="638.9" r="2.6"/><circle cx="397.8" cy="594.8" r="2.6"/><circle cx="437.4" cy="596.7" r="2.6"/><circle cx="355.0" cy="598.5" r="2.6"/><circle cx="391.3" cy="610.7" r="2.6"/><circle cx="429.0" cy="588.8" r="2.6"/><circle cx="412.8" cy="631.8" r="2.6"/><circle cx="434.5" cy="649.1" r="2.6"/><circle cx="427.3" cy="625.7" r="2.6"/><circle cx="442.5" cy="577.2" r="2.6"/><circle cx="474.3" cy="618.2" r="2.6"/><circle cx="422.0" cy="643.9" r="2.6"/><circle cx="437.0" cy="635.6" r="2.6"/><circle cx="466.4" cy="621.7" r="2.6"/><circle cx="464.4" cy="637.1" r="2.6"/><circle cx="365.1" cy="602.0" r="2.6"/><circle cx="422.5" cy="598.6" r="2.6"/><circle cx="355.0" cy="592.3" r="2.6"/><circle cx="443.7" cy="617.4" r="2.6"/><circle cx="498.2" cy="591.0" r="2.6"/><circle cx="401.7" cy="600.6" r="2.6"/><circle cx="444.1" cy="606.0" r="2.6"/><circle cx="474.3" cy="643.0" r="2.6"/><circle cx="372.2" cy="597.5" r="2.6"/><circle cx="395.7" cy="600.2" r="2.6"/><circle cx="440.6" cy="569.4" r="2.6"/><circle cx="444.8" cy="608.8" r="2.6"/><circle cx="441.1" cy="624.9" r="2.6"/><circle cx="398.8" cy="605.1" r="2.6"/><circle cx="400.9" cy="583.8" r="2.6"/><circle cx="458.6" cy="629.3" r="2.6"/><circle cx="385.3" cy="579.9" r="2.6"/><circle cx="465.4" cy="605.1" r="2.6"/><circle cx="426.3" cy="578.0" r="2.6"/><circle cx="464.6" cy="634.0" r="2.6"/><circle cx="451.3" cy="593.0" r="2.6"/><circle cx="369.6" cy="620.4" r="2.6"/><circle cx="448.6" cy="643.7" r="2.6"/><circle cx="426.2" cy="606.4" r="2.6"/><circle cx="441.7" cy="580.0" r="2.6"/><circle cx="390.5" cy="631.8" r="2.6"/><circle cx="369.6" cy="608.0" r="2.6"/><circle cx="463.5" cy="618.5" r="2.6"/><circle cx="447.4" cy="574.2" r="2.6"/><circle cx="422.0" cy="601.9" r="2.6"/><circle cx="455.6" cy="624.8" r="2.6"/><circle cx="415.2" cy="591.1" r="2.6"/><circle cx="426.9" cy="592.6" r="2.6"/><circle cx="503.9" cy="630.3" r="2.6"/><circle cx="414.5" cy="590.0" r="2.6"/><circle cx="379.6" cy="602.6" r="2.6"/><circle cx="489.3" cy="639.5" r="2.6"/><circle cx="426.6" cy="616.5" r="2.6"/><circle cx="492.6" cy="606.1" r="2.6"/><circle cx="407.1" cy="619.1" r="2.6"/><circle cx="446.6" cy="623.3" r="2.6"/><circle cx="413.7" cy="628.3" r="2.6"/><circle cx="447.5" cy="597.7" r="2.6"/><circle cx="413.4" cy="602.9" r="2.6"/><circle cx="490.5" cy="616.0" r="2.6"/><circle cx="476.2" cy="605.0" r="2.6"/><circle cx="471.4" cy="591.5" r="2.6"/><circle cx="467.5" cy="584.6" r="2.6"/><circle cx="425.2" cy="602.9" r="2.6"/><circle cx="425.2" cy="586.2" r="2.6"/><circle cx="501.5" cy="627.8" r="2.6"/><circle cx="442.0" cy="582.9" r="2.6"/><circle cx="449.9" cy="660.8" r="2.6"/><circle cx="393.2" cy="569.1" r="2.6"/><circle cx="455.0" cy="612.8" r="2.6"/><circle cx="386.7" cy="611.1" r="2.6"/><circle cx="401.7" cy="636.5" r="2.6"/><circle cx="411.4" cy="572.1" r="2.6"/><circle cx="425.7" cy="593.5" r="2.6"/><circle cx="496.9" cy="596.2" r="2.6"/><circle cx="425.5" cy="602.5" r="2.6"/><circle cx="439.9" cy="617.6" r="2.6"/><circle cx="379.7" cy="608.4" r="2.6"/><circle cx="421.8" cy="570.4" r="2.6"/><circle cx="400.0" cy="616.2" r="2.6"/><circle cx="420.9" cy="625.6" r="2.6"/><circle cx="362.3" cy="618.3" r="2.6"/><circle cx="453.1" cy="659.3" r="2.6"/><circle cx="483.4" cy="585.6" r="2.6"/><circle cx="444.7" cy="637.0" r="2.6"/><circle cx="468.8" cy="595.9" r="2.6"/><circle cx="455.4" cy="608.2" r="2.6"/><circle cx="383.3" cy="619.1" r="2.6"/><circle cx="444.1" cy="579.2" r="2.6"/><circle cx="460.9" cy="641.7" r="2.6"/><circle cx="431.2" cy="622.4" r="2.6"/><circle cx="449.0" cy="594.0" r="2.6"/><circle cx="444.9" cy="606.5" r="2.6"/><circle cx="430.0" cy="613.0" r="2.6"/><circle cx="415.2" cy="646.7" r="2.6"/><circle cx="437.6" cy="632.1" r="2.6"/><circle cx="385.0" cy="579.2" r="2.6"/><circle cx="465.5" cy="641.5" r="2.6"/><circle cx="434.0" cy="609.1" r="2.6"/><circle cx="388.3" cy="593.1" r="2.6"/><circle cx="353.4" cy="591.0" r="2.6"/><circle cx="415.6" cy="598.8" r="2.6"/><circle cx="438.0" cy="634.7" r="2.6"/><circle cx="441.4" cy="611.9" r="2.6"/><circle cx="422.1" cy="589.4" r="2.6"/><circle cx="432.8" cy="604.9" r="2.6"/><circle cx="412.2" cy="632.4" r="2.6"/><circle cx="484.6" cy="620.9" r="2.6"/><circle cx="435.5" cy="628.6" r="2.6"/><circle cx="480.6" cy="647.5" r="2.6"/><circle cx="393.3" cy="600.9" r="2.6"/><circle cx="442.9" cy="621.4" r="2.6"/><circle cx="384.5" cy="593.9" r="2.6"/><circle cx="429.9" cy="592.5" r="2.6"/><circle cx="431.6" cy="638.7" r="2.6"/><circle cx="415.2" cy="611.8" r="2.6"/><circle cx="411.0" cy="611.9" r="2.6"/><circle cx="396.2" cy="621.6" r="2.6"/><circle cx="399.3" cy="588.5" r="2.6"/><circle cx="411.2" cy="576.9" r="2.6"/><circle cx="457.7" cy="581.8" r="2.6"/><circle cx="353.7" cy="590.4" r="2.6"/><circle cx="411.1" cy="608.5" r="2.6"/><circle cx="375.7" cy="635.4" r="2.6"/><circle cx="491.6" cy="608.7" r="2.6"/><circle cx="356.1" cy="614.9" r="2.6"/><circle cx="419.7" cy="649.1" r="2.6"/><circle cx="434.1" cy="608.2" r="2.6"/><circle cx="466.9" cy="571.3" r="2.6"/><circle cx="514.9" cy="626.9" r="2.6"/><circle cx="439.5" cy="582.6" r="2.6"/><circle cx="393.0" cy="568.4" r="2.6"/><circle cx="399.9" cy="615.0" r="2.6"/><circle cx="419.6" cy="629.7" r="2.6"/><circle cx="455.9" cy="635.6" r="2.6"/><circle cx="427.3" cy="617.0" r="2.6"/><circle cx="392.3" cy="590.8" r="2.6"/><circle cx="466.0" cy="589.0" r="2.6"/><circle cx="471.8" cy="641.6" r="2.6"/><circle cx="388.3" cy="627.3" r="2.6"/><circle cx="387.7" cy="620.1" r="2.6"/><circle cx="389.4" cy="620.0" r="2.6"/><circle cx="432.9" cy="574.7" r="2.6"/><circle cx="441.4" cy="595.2" r="2.6"/><circle cx="417.5" cy="630.3" r="2.6"/><circle cx="401.3" cy="579.9" r="2.6"/><circle cx="403.2" cy="595.6" r="2.6"/><circle cx="454.8" cy="612.5" r="2.6"/><circle cx="405.7" cy="596.3" r="2.6"/><circle cx="384.2" cy="613.9" r="2.6"/><circle cx="409.6" cy="588.2" r="2.6"/><circle cx="428.3" cy="579.2" r="2.6"/><circle cx="391.5" cy="632.3" r="2.6"/><circle cx="421.7" cy="589.5" r="2.6"/><circle cx="467.3" cy="628.7" r="2.6"/><circle cx="406.7" cy="630.2" r="2.6"/><circle cx="455.8" cy="605.6" r="2.6"/><circle cx="442.6" cy="644.1" r="2.6"/><circle cx="447.5" cy="597.5" r="2.6"/><circle cx="427.1" cy="615.0" r="2.6"/><circle cx="353.0" cy="614.3" r="2.6"/><circle cx="497.2" cy="628.9" r="2.6"/><circle cx="395.4" cy="619.3" r="2.6"/><circle cx="406.6" cy="581.9" r="2.6"/><circle cx="458.8" cy="646.5" r="2.6"/><circle cx="433.9" cy="607.1" r="2.6"/><circle cx="465.1" cy="626.8" r="2.6"/><circle cx="445.8" cy="601.6" r="2.6"/><circle cx="441.0" cy="631.0" r="2.6"/><circle cx="394.9" cy="619.1" r="2.6"/><circle cx="433.6" cy="561.5" r="2.6"/><circle cx="423.9" cy="580.9" r="2.6"/><circle cx="414.5" cy="618.8" r="2.6"/><circle cx="453.8" cy="564.6" r="2.6"/><circle cx="458.5" cy="588.7" r="2.6"/><circle cx="368.1" cy="588.2" r="2.6"/><circle cx="502.7" cy="611.6" r="2.6"/><circle cx="413.9" cy="650.3" r="2.6"/><circle cx="416.4" cy="613.9" r="2.6"/><circle cx="508.9" cy="626.6" r="2.6"/><circle cx="479.5" cy="597.2" r="2.6"/><circle cx="354.6" cy="609.6" r="2.6"/><circle cx="479.7" cy="603.1" r="2.6"/><circle cx="386.9" cy="612.2" r="2.6"/><circle cx="375.3" cy="607.8" r="2.6"/><circle cx="455.5" cy="595.9" r="2.6"/><circle cx="387.1" cy="596.2" r="2.6"/><circle cx="372.0" cy="577.0" r="2.6"/><circle cx="465.2" cy="622.4" r="2.6"/><circle cx="361.9" cy="601.8" r="2.6"/><circle cx="449.1" cy="637.6" r="2.6"/><circle cx="457.7" cy="643.6" r="2.6"/><circle cx="426.5" cy="610.7" r="2.6"/><circle cx="416.9" cy="647.5" r="2.6"/><circle cx="387.1" cy="631.5" r="2.6"/><circle cx="465.3" cy="636.7" r="2.6"/><circle cx="504.8" cy="609.7" r="2.6"/><circle cx="413.5" cy="566.4" r="2.6"/><circle cx="440.8" cy="602.3" r="2.6"/><circle cx="463.0" cy="605.7" r="2.6"/><circle cx="416.6" cy="595.4" r="2.6"/><circle cx="428.3" cy="583.8" r="2.6"/><circle cx="473.7" cy="581.6" r="2.6"/><circle cx="453.4" cy="641.6" r="2.6"/><circle cx="483.6" cy="615.3" r="2.6"/><circle cx="430.0" cy="623.3" r="2.6"/><circle cx="434.3" cy="649.3" r="2.6"/><circle cx="401.5" cy="626.8" r="2.6"/><circle cx="421.3" cy="578.6" r="2.6"/><circle cx="448.7" cy="592.6" r="2.6"/><circle cx="429.5" cy="586.3" r="2.6"/><circle cx="368.0" cy="581.1" r="2.6"/><circle cx="458.3" cy="622.7" r="2.6"/><circle cx="438.3" cy="575.8" r="2.6"/><circle cx="484.5" cy="587.5" r="2.6"/><circle cx="474.8" cy="620.2" r="2.6"/><circle cx="409.6" cy="597.9" r="2.6"/><circle cx="494.2" cy="598.7" r="2.6"/><circle cx="451.3" cy="620.8" r="2.6"/><circle cx="467.6" cy="621.9" r="2.6"/><circle cx="384.1" cy="588.6" r="2.6"/><circle cx="420.3" cy="641.3" r="2.6"/><circle cx="429.5" cy="588.9" r="2.6"/><circle cx="444.8" cy="570.2" r="2.6"/><circle cx="435.6" cy="646.7" r="2.6"/><circle cx="501.5" cy="610.0" r="2.6"/><circle cx="431.8" cy="649.6" r="2.6"/><circle cx="405.9" cy="627.7" r="2.6"/><circle cx="420.7" cy="625.5" r="2.6"/><circle cx="415.1" cy="634.2" r="2.6"/><circle cx="438.5" cy="641.8" r="2.6"/><circle cx="435.4" cy="608.7" r="2.6"/><circle cx="410.6" cy="620.7" r="2.6"/><circle cx="425.0" cy="598.4" r="2.6"/><circle cx="449.4" cy="582.0" r="2.6"/><circle cx="486.7" cy="587.4" r="2.6"/><circle cx="405.7" cy="638.0" r="2.6"/><circle cx="433.7" cy="611.6" r="2.6"/><circle cx="392.0" cy="583.7" r="2.6"/><circle cx="394.7" cy="619.0" r="2.6"/><circle cx="389.1" cy="608.3" r="2.6"/><circle cx="381.9" cy="610.4" r="2.6"/><circle cx="358.6" cy="588.4" r="2.6"/><circle cx="436.7" cy="600.4" r="2.6"/><circle cx="381.8" cy="602.3" r="2.6"/><circle cx="397.0" cy="648.4" r="2.6"/><circle cx="444.2" cy="600.2" r="2.6"/><circle cx="410.9" cy="642.2" r="2.6"/><circle cx="398.8" cy="606.8" r="2.6"/><circle cx="453.1" cy="567.8" r="2.6"/><circle cx="454.4" cy="642.3" r="2.6"/><circle cx="402.8" cy="596.2" r="2.6"/><circle cx="386.9" cy="581.7" r="2.6"/><circle cx="408.3" cy="624.4" r="2.6"/><circle cx="450.8" cy="621.0" r="2.6"/><circle cx="469.8" cy="593.5" r="2.6"/><circle cx="379.0" cy="608.2" r="2.6"/><circle cx="451.7" cy="574.4" r="2.6"/><circle cx="404.3" cy="611.2" r="2.6"/><circle cx="380.4" cy="574.3" r="2.6"/><circle cx="417.5" cy="615.4" r="2.6"/><circle cx="396.5" cy="644.7" r="2.6"/><circle cx="455.7" cy="618.1" r="2.6"/><circle cx="462.5" cy="607.5" r="2.6"/><circle cx="390.9" cy="590.3" r="2.6"/><circle cx="447.2" cy="625.6" r="2.6"/><circle cx="451.0" cy="590.3" r="2.6"/><circle cx="416.6" cy="621.9" r="2.6"/><circle cx="481.8" cy="636.0" r="2.6"/><circle cx="416.2" cy="652.0" r="2.6"/><circle cx="408.6" cy="572.4" r="2.6"/><circle cx="432.9" cy="598.3" r="2.6"/><circle cx="411.7" cy="604.7" r="2.6"/><circle cx="375.7" cy="572.4" r="2.6"/><circle cx="448.3" cy="655.0" r="2.6"/><circle cx="434.1" cy="583.6" r="2.6"/><circle cx="484.3" cy="648.7" r="2.6"/><circle cx="435.4" cy="602.9" r="2.6"/><circle cx="446.4" cy="582.0" r="2.6"/><circle cx="462.4" cy="652.5" r="2.6"/><circle cx="395.5" cy="611.4" r="2.6"/><circle cx="496.3" cy="596.6" r="2.6"/><circle cx="426.3" cy="651.0" r="2.6"/><circle cx="417.5" cy="641.1" r="2.6"/><circle cx="412.3" cy="615.1" r="2.6"/><circle cx="426.7" cy="602.5" r="2.6"/><circle cx="372.9" cy="603.7" r="2.6"/><circle cx="394.7" cy="585.0" r="2.6"/><circle cx="461.5" cy="604.6" r="2.6"/><circle cx="494.3" cy="595.9" r="2.6"/><circle cx="425.0" cy="599.8" r="2.6"/><circle cx="364.3" cy="622.5" r="2.6"/><circle cx="376.2" cy="572.9" r="2.6"/><circle cx="399.3" cy="618.7" r="2.6"/><circle cx="434.7" cy="618.2" r="2.6"/><circle cx="440.1" cy="607.0" r="2.6"/><circle cx="394.5" cy="607.8" r="2.6"/><circle cx="501.5" cy="627.5" r="2.6"/><circle cx="458.6" cy="626.0" r="2.6"/><circle cx="488.7" cy="602.7" r="2.6"/><circle cx="417.5" cy="588.8" r="2.6"/><circle cx="435.6" cy="601.1" r="2.6"/><circle cx="419.9" cy="621.2" r="2.6"/><circle cx="409.4" cy="579.5" r="2.6"/><circle cx="407.9" cy="591.9" r="2.6"/><circle cx="446.2" cy="651.1" r="2.6"/><circle cx="423.6" cy="578.7" r="2.6"/><circle cx="372.7" cy="607.7" r="2.6"/><circle cx="451.0" cy="621.9" r="2.6"/><circle cx="410.5" cy="604.3" r="2.6"/><circle cx="368.3" cy="617.8" r="2.6"/><circle cx="442.8" cy="614.7" r="2.6"/><circle cx="451.6" cy="583.9" r="2.6"/><circle cx="442.0" cy="589.4" r="2.6"/><circle cx="505.7" cy="638.1" r="2.6"/><circle cx="468.6" cy="590.0" r="2.6"/><circle cx="403.7" cy="607.1" r="2.6"/><circle cx="417.7" cy="628.7" r="2.6"/><circle cx="396.9" cy="639.7" r="2.6"/><circle cx="413.9" cy="637.9" r="2.6"/><circle cx="430.6" cy="637.0" r="2.6"/><circle cx="446.4" cy="589.0" r="2.6"/><circle cx="433.6" cy="565.8" r="2.6"/><circle cx="442.3" cy="599.6" r="2.6"/><circle cx="417.2" cy="641.1" r="2.6"/><circle cx="405.2" cy="634.8" r="2.6"/><circle cx="406.0" cy="605.0" r="2.6"/><circle cx="380.2" cy="582.2" r="2.6"/><circle cx="407.9" cy="612.3" r="2.6"/><circle cx="374.7" cy="607.1" r="2.6"/><circle cx="393.2" cy="592.0" r="2.6"/><circle cx="385.1" cy="588.8" r="2.6"/><circle cx="422.6" cy="593.0" r="2.6"/><circle cx="377.4" cy="622.8" r="2.6"/><circle cx="371.9" cy="609.2" r="2.6"/><circle cx="469.3" cy="627.9" r="2.6"/><circle cx="412.3" cy="609.4" r="2.6"/><circle cx="433.5" cy="629.1" r="2.6"/><circle cx="511.2" cy="637.0" r="2.6"/><circle cx="443.2" cy="594.2" r="2.6"/><circle cx="457.5" cy="612.2" r="2.6"/><circle cx="444.0" cy="585.5" r="2.6"/><circle cx="446.0" cy="586.2" r="2.6"/><circle cx="447.9" cy="595.8" r="2.6"/><circle cx="363.1" cy="595.4" r="2.6"/><circle cx="414.7" cy="627.7" r="2.6"/><circle cx="469.3" cy="602.6" r="2.6"/><circle cx="408.8" cy="630.2" r="2.6"/><circle cx="383.8" cy="598.0" r="2.6"/><circle cx="414.4" cy="603.6" r="2.6"/><circle cx="421.8" cy="607.4" r="2.6"/><circle cx="425.2" cy="632.8" r="2.6"/><circle cx="379.0" cy="630.0" r="2.6"/><circle cx="480.5" cy="619.1" r="2.6"/><circle cx="400.6" cy="581.2" r="2.6"/><circle cx="403.9" cy="595.2" r="2.6"/><circle cx="355.0" cy="587.2" r="2.6"/><circle cx="414.3" cy="631.7" r="2.6"/><circle cx="420.3" cy="598.5" r="2.6"/><circle cx="359.5" cy="597.7" r="2.6"/><circle cx="436.1" cy="628.2" r="2.6"/><circle cx="362.9" cy="591.3" r="2.6"/><circle cx="443.4" cy="587.8" r="2.6"/><circle cx="458.1" cy="620.6" r="2.6"/><circle cx="466.9" cy="591.9" r="2.6"/><circle cx="491.6" cy="601.0" r="2.6"/><circle cx="380.6" cy="634.6" r="2.6"/><circle cx="428.5" cy="597.0" r="2.6"/><circle cx="415.9" cy="589.2" r="2.6"/><circle cx="450.1" cy="620.6" r="2.6"/><circle cx="439.1" cy="597.6" r="2.6"/><circle cx="481.7" cy="631.2" r="2.6"/><circle cx="424.4" cy="606.5" r="2.6"/><circle cx="492.2" cy="582.8" r="2.6"/><circle cx="451.7" cy="642.9" r="2.6"/><circle cx="459.3" cy="630.9" r="2.6"/><circle cx="505.3" cy="621.1" r="2.6"/><circle cx="472.3" cy="614.1" r="2.6"/><circle cx="488.7" cy="628.9" r="2.6"/><circle cx="459.5" cy="584.0" r="2.6"/><circle cx="432.4" cy="584.6" r="2.6"/><circle cx="428.9" cy="588.0" r="2.6"/><circle cx="479.5" cy="593.2" r="2.6"/><circle cx="425.5" cy="601.9" r="2.6"/><circle cx="402.4" cy="599.5" r="2.6"/><circle cx="403.9" cy="640.5" r="2.6"/><circle cx="370.0" cy="616.5" r="2.6"/><circle cx="464.8" cy="579.6" r="2.6"/><circle cx="399.8" cy="635.5" r="2.6"/><circle cx="442.0" cy="637.7" r="2.6"/><circle cx="384.1" cy="636.4" r="2.6"/><circle cx="391.3" cy="595.8" r="2.6"/><circle cx="459.2" cy="619.1" r="2.6"/><circle cx="492.7" cy="641.4" r="2.6"/><circle cx="409.9" cy="563.5" r="2.6"/><circle cx="376.0" cy="591.2" r="2.6"/><circle cx="450.0" cy="645.2" r="2.6"/><circle cx="386.2" cy="603.1" r="2.6"/><circle cx="382.7" cy="572.3" r="2.6"/><circle cx="434.7" cy="596.7" r="2.6"/><circle cx="411.4" cy="567.9" r="2.6"/><circle cx="443.8" cy="622.1" r="2.6"/><circle cx="426.5" cy="624.0" r="2.6"/><circle cx="503.3" cy="618.1" r="2.6"/><circle cx="440.5" cy="597.1" r="2.6"/><circle cx="460.2" cy="604.2" r="2.6"/><circle cx="389.2" cy="588.6" r="2.6"/><circle cx="405.2" cy="576.2" r="2.6"/><circle cx="496.7" cy="631.8" r="2.6"/><circle cx="441.7" cy="599.4" r="2.6"/><circle cx="449.0" cy="624.9" r="2.6"/><circle cx="464.8" cy="639.6" r="2.6"/><circle cx="458.6" cy="583.7" r="2.6"/><circle cx="416.0" cy="608.3" r="2.6"/><circle cx="447.5" cy="632.6" r="2.6"/><circle cx="473.3" cy="612.7" r="2.6"/><circle cx="434.5" cy="604.6" r="2.6"/><circle cx="435.0" cy="605.7" r="2.6"/><circle cx="460.8" cy="633.1" r="2.6"/><circle cx="394.5" cy="582.9" r="2.6"/><circle cx="420.0" cy="571.9" r="2.6"/><circle cx="424.5" cy="595.8" r="2.6"/><circle cx="473.6" cy="605.6" r="2.6"/><circle cx="455.2" cy="592.8" r="2.6"/><circle cx="426.9" cy="595.7" r="2.6"/><circle cx="418.0" cy="645.1" r="2.6"/><circle cx="411.4" cy="609.3" r="2.6"/><circle cx="442.9" cy="570.5" r="2.6"/><circle cx="423.3" cy="641.5" r="2.6"/><circle cx="441.5" cy="615.7" r="2.6"/><circle cx="509.0" cy="615.7" r="2.6"/><circle cx="360.2" cy="613.2" r="2.6"/><circle cx="382.0" cy="612.4" r="2.6"/><circle cx="482.2" cy="621.6" r="2.6"/><circle cx="438.1" cy="642.3" r="2.6"/><circle cx="371.2" cy="613.7" r="2.6"/><circle cx="398.7" cy="647.0" r="2.6"/><circle cx="387.7" cy="632.1" r="2.6"/><circle cx="442.9" cy="580.1" r="2.6"/><circle cx="414.3" cy="577.2" r="2.6"/><circle cx="450.0" cy="584.0" r="2.6"/><circle cx="352.6" cy="603.0" r="2.6"/><circle cx="485.4" cy="602.4" r="2.6"/><circle cx="425.8" cy="571.3" r="2.6"/><circle cx="443.6" cy="604.1" r="2.6"/><circle cx="414.5" cy="632.9" r="2.6"/><circle cx="474.2" cy="600.2" r="2.6"/><circle cx="363.7" cy="627.6" r="2.6"/><circle cx="408.1" cy="589.4" r="2.6"/><circle cx="371.4" cy="634.2" r="2.6"/><circle cx="401.7" cy="604.9" r="2.6"/><circle cx="408.9" cy="610.2" r="2.6"/><circle cx="466.7" cy="580.1" r="2.6"/><circle cx="445.2" cy="627.9" r="2.6"/><circle cx="441.7" cy="563.4" r="2.6"/><circle cx="425.4" cy="597.7" r="2.6"/><circle cx="510.0" cy="615.4" r="2.6"/><circle cx="419.5" cy="568.5" r="2.6"/><circle cx="371.7" cy="593.9" r="2.6"/><circle cx="417.0" cy="630.0" r="2.6"/><circle cx="442.7" cy="639.8" r="2.6"/><circle cx="449.7" cy="604.1" r="2.6"/><circle cx="392.3" cy="594.9" r="2.6"/><circle cx="466.2" cy="590.2" r="2.6"/><circle cx="472.7" cy="637.0" r="2.6"/><circle cx="403.6" cy="606.3" r="2.6"/><circle cx="448.3" cy="566.2" r="2.6"/><circle cx="491.0" cy="598.3" r="2.6"/><circle cx="472.6" cy="603.6" r="2.6"/><circle cx="393.0" cy="628.8" r="2.6"/><circle cx="490.2" cy="609.5" r="2.6"/><circle cx="366.0" cy="584.5" r="2.6"/><circle cx="406.5" cy="601.8" r="2.6"/><circle cx="383.0" cy="633.9" r="2.6"/><circle cx="411.0" cy="590.0" r="2.6"/><circle cx="416.3" cy="611.9" r="2.6"/><circle cx="438.8" cy="645.8" r="2.6"/><circle cx="387.9" cy="610.6" r="2.6"/><circle cx="388.2" cy="641.7" r="2.6"/><circle cx="465.1" cy="643.8" r="2.6"/><circle cx="379.1" cy="635.5" r="2.6"/><circle cx="390.7" cy="616.9" r="2.6"/><circle cx="435.6" cy="652.3" r="2.6"/><circle cx="455.5" cy="585.4" r="2.6"/><circle cx="446.9" cy="608.5" r="2.6"/><circle cx="438.7" cy="609.9" r="2.6"/><circle cx="402.2" cy="626.7" r="2.6"/><circle cx="461.7" cy="610.0" r="2.6"/><circle cx="398.7" cy="598.6" r="2.6"/><circle cx="398.1" cy="628.8" r="2.6"/><circle cx="429.4" cy="620.1" r="2.6"/><circle cx="433.2" cy="615.1" r="2.6"/><circle cx="482.7" cy="596.9" r="2.6"/><circle cx="449.5" cy="627.5" r="2.6"/><circle cx="461.2" cy="605.1" r="2.6"/><circle cx="413.0" cy="616.7" r="2.6"/><circle cx="367.5" cy="617.0" r="2.6"/><circle cx="432.0" cy="640.4" r="2.6"/><circle cx="419.1" cy="630.9" r="2.6"/><circle cx="364.5" cy="586.6" r="2.6"/><circle cx="463.5" cy="658.4" r="2.6"/><circle cx="360.8" cy="577.7" r="2.6"/><circle cx="483.8" cy="591.4" r="2.6"/><circle cx="438.5" cy="626.0" r="2.6"/><circle cx="448.7" cy="606.3" r="2.6"/><circle cx="442.8" cy="638.4" r="2.6"/><circle cx="435.5" cy="609.6" r="2.6"/><circle cx="377.3" cy="620.3" r="2.6"/><circle cx="433.3" cy="576.0" r="2.6"/><circle cx="415.7" cy="589.4" r="2.6"/><circle cx="384.2" cy="591.5" r="2.6"/><circle cx="456.6" cy="577.8" r="2.6"/><circle cx="404.2" cy="606.6" r="2.6"/><circle cx="383.0" cy="571.1" r="2.6"/><circle cx="355.8" cy="586.2" r="2.6"/><circle cx="384.3" cy="635.0" r="2.6"/><circle cx="451.6" cy="630.6" r="2.6"/><circle cx="426.2" cy="637.7" r="2.6"/><circle cx="398.2" cy="621.1" r="2.6"/><circle cx="469.9" cy="608.5" r="2.6"/><circle cx="382.6" cy="630.4" r="2.6"/><circle cx="483.9" cy="628.5" r="2.6"/><circle cx="373.1" cy="612.2" r="2.6"/><circle cx="441.0" cy="630.8" r="2.6"/><circle cx="427.7" cy="625.1" r="2.6"/><circle cx="451.4" cy="577.3" r="2.6"/><circle cx="436.6" cy="575.8" r="2.6"/><circle cx="421.9" cy="614.4" r="2.6"/><circle cx="419.7" cy="587.8" r="2.6"/><circle cx="444.1" cy="630.5" r="2.6"/><circle cx="438.0" cy="599.6" r="2.6"/><circle cx="418.0" cy="632.1" r="2.6"/><circle cx="456.9" cy="632.0" r="2.6"/><circle cx="433.2" cy="629.5" r="2.6"/><circle cx="416.9" cy="636.7" r="2.6"/><circle cx="456.5" cy="636.3" r="2.6"/><circle cx="462.6" cy="632.4" r="2.6"/><circle cx="397.1" cy="575.9" r="2.6"/><circle cx="438.7" cy="601.3" r="2.6"/><circle cx="465.6" cy="593.0" r="2.6"/><circle cx="410.8" cy="569.9" r="2.6"/><circle cx="426.2" cy="600.5" r="2.6"/><circle cx="483.4" cy="615.4" r="2.6"/><circle cx="480.3" cy="629.9" r="2.6"/><circle cx="504.0" cy="624.4" r="2.6"/><circle cx="398.0" cy="628.9" r="2.6"/><circle cx="411.8" cy="589.6" r="2.6"/><circle cx="454.3" cy="618.0" r="2.6"/><circle cx="427.4" cy="613.2" r="2.6"/><circle cx="425.9" cy="594.5" r="2.6"/><circle cx="392.2" cy="601.1" r="2.6"/><circle cx="471.0" cy="611.7" r="2.6"/><circle cx="489.2" cy="595.6" r="2.6"/><circle cx="438.5" cy="608.8" r="2.6"/><circle cx="430.1" cy="635.3" r="2.6"/><circle cx="430.0" cy="630.5" r="2.6"/><circle cx="399.1" cy="590.3" r="2.6"/><circle cx="454.1" cy="618.8" r="2.6"/><circle cx="439.8" cy="608.0" r="2.6"/><circle cx="460.0" cy="631.4" r="2.6"/><circle cx="471.4" cy="640.5" r="2.6"/><circle cx="379.8" cy="595.0" r="2.6"/><circle cx="467.4" cy="615.2" r="2.6"/><circle cx="376.3" cy="619.4" r="2.6"/><circle cx="502.0" cy="626.3" r="2.6"/><circle cx="458.3" cy="656.4" r="2.6"/><circle cx="429.9" cy="599.1" r="2.6"/><circle cx="371.1" cy="609.3" r="2.6"/><circle cx="403.9" cy="585.7" r="2.6"/><circle cx="404.0" cy="584.2" r="2.6"/><circle cx="455.7" cy="595.8" r="2.6"/><circle cx="386.2" cy="637.9" r="2.6"/><circle cx="373.6" cy="617.5" r="2.6"/><circle cx="381.3" cy="596.1" r="2.6"/><circle cx="403.8" cy="572.8" r="2.6"/><circle cx="403.4" cy="644.9" r="2.6"/><circle cx="483.0" cy="590.3" r="2.6"/><circle cx="490.4" cy="597.7" r="2.6"/><circle cx="420.4" cy="610.2" r="2.6"/><circle cx="415.3" cy="613.8" r="2.6"/><circle cx="410.3" cy="624.8" r="2.6"/><circle cx="471.4" cy="587.6" r="2.6"/><circle cx="417.8" cy="586.1" r="2.6"/><circle cx="403.1" cy="622.9" r="2.6"/><circle cx="444.6" cy="582.0" r="2.6"/><circle cx="457.8" cy="617.2" r="2.6"/><circle cx="486.9" cy="593.1" r="2.6"/><circle cx="454.5" cy="639.2" r="2.6"/><circle cx="429.8" cy="612.1" r="2.6"/><circle cx="424.4" cy="631.4" r="2.6"/><circle cx="412.4" cy="581.4" r="2.6"/><circle cx="415.4" cy="622.1" r="2.6"/><circle cx="475.6" cy="611.8" r="2.6"/><circle cx="456.5" cy="608.2" r="2.6"/><circle cx="377.8" cy="632.3" r="2.6"/><circle cx="431.1" cy="573.5" r="2.6"/><circle cx="424.8" cy="650.0" r="2.6"/><circle cx="446.4" cy="607.3" r="2.6"/><circle cx="438.3" cy="577.5" r="2.6"/><circle cx="455.4" cy="627.5" r="2.6"/><circle cx="439.7" cy="619.8" r="2.6"/><circle cx="408.5" cy="590.0" r="2.6"/><circle cx="416.3" cy="622.1" r="2.6"/><circle cx="371.4" cy="606.8" r="2.6"/><circle cx="497.5" cy="633.9" r="2.6"/><circle cx="418.2" cy="647.0" r="2.6"/><circle cx="458.1" cy="622.3" r="2.6"/><circle cx="377.3" cy="592.3" r="2.6"/><circle cx="410.6" cy="591.3" r="2.6"/><circle cx="483.7" cy="644.4" r="2.6"/><circle cx="392.6" cy="584.1" r="2.6"/><circle cx="367.4" cy="590.9" r="2.6"/><circle cx="490.0" cy="588.8" r="2.6"/><circle cx="431.7" cy="639.6" r="2.6"/><circle cx="364.9" cy="598.5" r="2.6"/><circle cx="389.9" cy="613.0" r="2.6"/><circle cx="452.7" cy="648.7" r="2.6"/><circle cx="490.9" cy="612.1" r="2.6"/><circle cx="428.6" cy="588.5" r="2.6"/><circle cx="400.1" cy="617.7" r="2.6"/><circle cx="376.3" cy="608.2" r="2.6"/><circle cx="424.3" cy="646.2" r="2.6"/><circle cx="480.6" cy="637.2" r="2.6"/><circle cx="371.2" cy="622.0" r="2.6"/><circle cx="450.6" cy="584.3" r="2.6"/><circle cx="440.8" cy="601.3" r="2.6"/><circle cx="388.1" cy="614.0" r="2.6"/><circle cx="400.7" cy="571.6" r="2.6"/><circle cx="413.4" cy="614.9" r="2.6"/><circle cx="473.7" cy="643.0" r="2.6"/><circle cx="415.7" cy="622.9" r="2.6"/><circle cx="443.1" cy="576.0" r="2.6"/><circle cx="387.9" cy="608.9" r="2.6"/><circle cx="418.8" cy="575.2" r="2.6"/><circle cx="386.5" cy="608.3" r="2.6"/><circle cx="361.4" cy="615.9" r="2.6"/><circle cx="461.2" cy="598.1" r="2.6"/><circle cx="477.9" cy="627.2" r="2.6"/><circle cx="461.4" cy="613.9" r="2.6"/><circle cx="455.8" cy="606.9" r="2.6"/><circle cx="455.3" cy="600.3" r="2.6"/><circle cx="412.6" cy="615.5" r="2.6"/><circle cx="432.0" cy="608.6" r="2.6"/><circle cx="391.4" cy="601.7" r="2.6"/><circle cx="470.6" cy="614.8" r="2.6"/><circle cx="442.9" cy="593.5" r="2.6"/><circle cx="491.6" cy="603.8" r="2.6"/><circle cx="452.8" cy="609.9" r="2.6"/><circle cx="392.5" cy="600.7" r="2.6"/><circle cx="479.9" cy="623.0" r="2.6"/><circle cx="386.6" cy="631.3" r="2.6"/><circle cx="465.0" cy="584.3" r="2.6"/><circle cx="441.4" cy="615.4" r="2.6"/><circle cx="382.8" cy="574.0" r="2.6"/><circle cx="481.9" cy="636.7" r="2.6"/><circle cx="415.5" cy="618.9" r="2.6"/><circle cx="449.8" cy="581.6" r="2.6"/><circle cx="479.0" cy="642.5" r="2.6"/><circle cx="452.4" cy="578.6" r="2.6"/><circle cx="399.1" cy="636.0" r="2.6"/><circle cx="400.7" cy="572.3" r="2.6"/><circle cx="384.9" cy="621.1" r="2.6"/><circle cx="371.8" cy="607.5" r="2.6"/><circle cx="435.8" cy="613.4" r="2.6"/><circle cx="376.2" cy="585.5" r="2.6"/><circle cx="470.7" cy="598.0" r="2.6"/><circle cx="405.1" cy="632.0" r="2.6"/><circle cx="446.6" cy="611.4" r="2.6"/><circle cx="400.6" cy="644.4" r="2.6"/><circle cx="384.0" cy="633.0" r="2.6"/><circle cx="480.2" cy="626.6" r="2.6"/><circle cx="450.3" cy="579.7" r="2.6"/><circle cx="473.1" cy="592.6" r="2.6"/><circle cx="446.3" cy="620.9" r="2.6"/><circle cx="396.9" cy="636.8" r="2.6"/><circle cx="469.8" cy="639.9" r="2.6"/><circle cx="436.4" cy="652.6" r="2.6"/><circle cx="468.0" cy="622.8" r="2.6"/><circle cx="507.9" cy="625.7" r="2.6"/><circle cx="428.7" cy="589.4" r="2.6"/><circle cx="428.2" cy="584.1" r="2.6"/><circle cx="361.2" cy="608.8" r="2.6"/><circle cx="415.8" cy="628.4" r="2.6"/><circle cx="486.5" cy="644.8" r="2.6"/><circle cx="404.8" cy="605.5" r="2.6"/><circle cx="413.4" cy="616.9" r="2.6"/><circle cx="372.6" cy="577.4" r="2.6"/><circle cx="428.5" cy="612.9" r="2.6"/><circle cx="427.2" cy="618.9" r="2.6"/><circle cx="398.9" cy="614.0" r="2.6"/><circle cx="420.3" cy="581.1" r="2.6"/><circle cx="423.4" cy="598.4" r="2.6"/><circle cx="441.0" cy="631.5" r="2.6"/><circle cx="384.0" cy="605.5" r="2.6"/><circle cx="376.5" cy="596.9" r="2.6"/><circle cx="430.6" cy="631.9" r="2.6"/><circle cx="388.5" cy="629.5" r="2.6"/><circle cx="420.4" cy="600.1" r="2.6"/><circle cx="414.1" cy="589.1" r="2.6"/><circle cx="417.7" cy="591.0" r="2.6"/><circle cx="491.8" cy="592.2" r="2.6"/><circle cx="457.7" cy="634.1" r="2.6"/><circle cx="422.6" cy="611.9" r="2.6"/><circle cx="468.0" cy="637.8" r="2.6"/><circle cx="493.7" cy="639.4" r="2.6"/><circle cx="457.2" cy="598.9" r="2.6"/><circle cx="485.8" cy="603.5" r="2.6"/><circle cx="460.8" cy="589.8" r="2.6"/><circle cx="400.1" cy="620.7" r="2.6"/><circle cx="451.7" cy="629.4" r="2.6"/><circle cx="368.1" cy="602.4" r="2.6"/><circle cx="435.7" cy="575.3" r="2.6"/><circle cx="377.3" cy="581.0" r="2.6"/><circle cx="427.2" cy="630.6" r="2.6"/><circle cx="394.6" cy="583.2" r="2.6"/><circle cx="399.7" cy="590.2" r="2.6"/><circle cx="410.8" cy="572.4" r="2.6"/><circle cx="443.9" cy="604.8" r="2.6"/><circle cx="435.4" cy="635.4" r="2.6"/><circle cx="438.0" cy="577.5" r="2.6"/><circle cx="486.7" cy="639.4" r="2.6"/><circle cx="468.6" cy="630.1" r="2.6"/><circle cx="443.1" cy="591.4" r="2.6"/><circle cx="500.1" cy="598.0" r="2.6"/><circle cx="372.3" cy="629.6" r="2.6"/><circle cx="463.5" cy="621.5" r="2.6"/><circle cx="401.1" cy="572.4" r="2.6"/><circle cx="385.5" cy="573.6" r="2.6"/><circle cx="370.8" cy="621.1" r="2.6"/><circle cx="401.5" cy="628.5" r="2.6"/><circle cx="440.3" cy="578.7" r="2.6"/><circle cx="421.5" cy="589.0" r="2.6"/><circle cx="436.8" cy="604.0" r="2.6"/><circle cx="376.6" cy="619.8" r="2.6"/><circle cx="410.4" cy="600.6" r="2.6"/><circle cx="411.8" cy="584.9" r="2.6"/><circle cx="395.9" cy="630.2" r="2.6"/><circle cx="440.0" cy="628.3" r="2.6"/><circle cx="393.6" cy="607.5" r="2.6"/><circle cx="468.6" cy="586.7" r="2.6"/><circle cx="481.3" cy="593.9" r="2.6"/><circle cx="425.0" cy="602.6" r="2.6"/><circle cx="471.7" cy="607.3" r="2.6"/><circle cx="462.4" cy="579.1" r="2.6"/><circle cx="425.8" cy="587.8" r="2.6"/><circle cx="439.7" cy="595.5" r="2.6"/><circle cx="441.4" cy="579.3" r="2.6"/><circle cx="424.0" cy="614.7" r="2.6"/><circle cx="404.9" cy="615.3" r="2.6"/><circle cx="409.3" cy="637.1" r="2.6"/><circle cx="460.3" cy="573.3" r="2.6"/><circle cx="388.0" cy="572.0" r="2.6"/><circle cx="464.5" cy="620.8" r="2.6"/><circle cx="471.4" cy="634.2" r="2.6"/><circle cx="453.7" cy="570.8" r="2.6"/><circle cx="415.4" cy="651.9" r="2.6"/><circle cx="381.8" cy="582.2" r="2.6"/><circle cx="406.2" cy="602.0" r="2.6"/><circle cx="431.9" cy="610.6" r="2.6"/><circle cx="447.5" cy="644.4" r="2.6"/><circle cx="455.9" cy="577.3" r="2.6"/><circle cx="487.3" cy="606.2" r="2.6"/><circle cx="422.5" cy="576.3" r="2.6"/><circle cx="476.1" cy="618.6" r="2.6"/><circle cx="380.4" cy="621.2" r="2.6"/><circle cx="429.9" cy="612.6" r="2.6"/><circle cx="451.1" cy="606.4" r="2.6"/><circle cx="487.8" cy="588.2" r="2.6"/><circle cx="371.7" cy="609.8" r="2.6"/><circle cx="424.3" cy="620.5" r="2.6"/><circle cx="377.2" cy="607.8" r="2.6"/><circle cx="401.2" cy="645.4" r="2.6"/><circle cx="429.7" cy="590.4" r="2.6"/><circle cx="380.0" cy="609.5" r="2.6"/><circle cx="481.4" cy="642.5" r="2.6"/><circle cx="417.0" cy="605.8" r="2.6"/><circle cx="407.0" cy="581.5" r="2.6"/><circle cx="413.7" cy="627.2" r="2.6"/><circle cx="400.6" cy="592.1" r="2.6"/><circle cx="421.2" cy="606.3" r="2.6"/><circle cx="398.9" cy="582.3" r="2.6"/><circle cx="423.9" cy="611.6" r="2.6"/><circle cx="477.6" cy="631.5" r="2.6"/><circle cx="485.6" cy="620.4" r="2.6"/><circle cx="461.0" cy="583.6" r="2.6"/><circle cx="396.4" cy="579.3" r="2.6"/><circle cx="449.9" cy="586.1" r="2.6"/><circle cx="424.2" cy="643.8" r="2.6"/><circle cx="460.2" cy="621.1" r="2.6"/><circle cx="427.4" cy="605.9" r="2.6"/><circle cx="454.5" cy="601.7" r="2.6"/><circle cx="407.1" cy="587.3" r="2.6"/><circle cx="412.8" cy="594.0" r="2.6"/><circle cx="397.7" cy="577.6" r="2.6"/><circle cx="452.4" cy="629.1" r="2.6"/><circle cx="458.5" cy="592.9" r="2.6"/><circle cx="428.4" cy="583.2" r="2.6"/><circle cx="455.3" cy="614.8" r="2.6"/><circle cx="443.6" cy="653.3" r="2.6"/><circle cx="414.6" cy="601.8" r="2.6"/><circle cx="355.6" cy="599.1" r="2.6"/><circle cx="473.8" cy="636.9" r="2.6"/><circle cx="402.0" cy="570.4" r="2.6"/><circle cx="447.9" cy="611.6" r="2.6"/><circle cx="478.0" cy="620.2" r="2.6"/><circle cx="465.8" cy="586.9" r="2.6"/><circle cx="423.4" cy="620.2" r="2.6"/><circle cx="419.7" cy="612.3" r="2.6"/><circle cx="463.7" cy="613.4" r="2.6"/><circle cx="374.5" cy="589.3" r="2.6"/><circle cx="367.9" cy="595.6" r="2.6"/><circle cx="459.9" cy="625.7" r="2.6"/><circle cx="378.0" cy="611.0" r="2.6"/><circle cx="468.7" cy="645.3" r="2.6"/><circle cx="474.8" cy="599.1" r="2.6"/><circle cx="413.5" cy="633.2" r="2.6"/><circle cx="426.4" cy="618.7" r="2.6"/><circle cx="455.6" cy="652.0" r="2.6"/><circle cx="453.1" cy="581.4" r="2.6"/><circle cx="445.6" cy="589.1" r="2.6"/><circle cx="402.0" cy="618.8" r="2.6"/><circle cx="397.6" cy="612.4" r="2.6"/><circle cx="423.7" cy="627.4" r="2.6"/><circle cx="399.1" cy="571.5" r="2.6"/><circle cx="428.0" cy="636.0" r="2.6"/><circle cx="423.6" cy="642.8" r="2.6"/><circle cx="375.5" cy="608.8" r="2.6"/><circle cx="432.5" cy="600.1" r="2.6"/><circle cx="442.0" cy="597.1" r="2.6"/><circle cx="393.3" cy="636.5" r="2.6"/><circle cx="452.0" cy="644.8" r="2.6"/><circle cx="413.5" cy="601.2" r="2.6"/><circle cx="488.1" cy="620.6" r="2.6"/><circle cx="426.0" cy="643.2" r="2.6"/><circle cx="400.5" cy="634.8" r="2.6"/><circle cx="489.0" cy="616.2" r="2.6"/><circle cx="438.0" cy="599.9" r="2.6"/><circle cx="462.4" cy="643.9" r="2.6"/><circle cx="479.7" cy="599.9" r="2.6"/><circle cx="431.8" cy="585.3" r="2.6"/><circle cx="448.3" cy="635.7" r="2.6"/><circle cx="436.2" cy="609.5" r="2.6"/><circle cx="448.0" cy="621.4" r="2.6"/><circle cx="450.7" cy="588.9" r="2.6"/><circle cx="391.1" cy="595.7" r="2.6"/><circle cx="387.8" cy="621.4" r="2.6"/><circle cx="391.9" cy="578.7" r="2.6"/><circle cx="450.4" cy="618.2" r="2.6"/><circle cx="508.1" cy="614.3" r="2.6"/><circle cx="479.8" cy="619.0" r="2.6"/><circle cx="447.1" cy="580.9" r="2.6"/><circle cx="357.9" cy="601.0" r="2.6"/><circle cx="473.1" cy="592.9" r="2.6"/><circle cx="356.3" cy="590.5" r="2.6"/><circle cx="374.8" cy="632.9" r="2.6"/><circle cx="363.5" cy="617.4" r="2.6"/><circle cx="474.3" cy="612.9" r="2.6"/><circle cx="417.5" cy="607.9" r="2.6"/><circle cx="399.6" cy="596.7" r="2.6"/><circle cx="401.3" cy="610.4" r="2.6"/><circle cx="456.8" cy="640.9" r="2.6"/><circle cx="426.9" cy="609.5" r="2.6"/><circle cx="484.7" cy="598.5" r="2.6"/><circle cx="386.4" cy="609.5" r="2.6"/><circle cx="453.9" cy="614.0" r="2.6"/><circle cx="429.7" cy="650.6" r="2.6"/><circle cx="472.0" cy="611.5" r="2.6"/><circle cx="349.2" cy="612.5" r="2.6"/><circle cx="443.8" cy="626.2" r="2.6"/><circle cx="445.2" cy="651.3" r="2.6"/><circle cx="437.5" cy="638.1" r="2.6"/><circle cx="477.0" cy="615.2" r="2.6"/><circle cx="445.9" cy="596.4" r="2.6"/><circle cx="387.6" cy="597.5" r="2.6"/><circle cx="404.1" cy="566.8" r="2.6"/><circle cx="475.1" cy="646.8" r="2.6"/><circle cx="505.2" cy="609.6" r="2.6"/><circle cx="420.7" cy="624.2" r="2.6"/><circle cx="364.1" cy="574.5" r="2.6"/><circle cx="404.4" cy="571.4" r="2.6"/><circle cx="467.1" cy="619.7" r="2.6"/><circle cx="370.8" cy="603.6" r="2.6"/><circle cx="413.9" cy="608.2" r="2.6"/><circle cx="399.1" cy="602.6" r="2.6"/><circle cx="470.3" cy="595.4" r="2.6"/><circle cx="469.2" cy="637.3" r="2.6"/><circle cx="434.2" cy="625.8" r="2.6"/><circle cx="416.0" cy="601.9" r="2.6"/><circle cx="376.9" cy="570.7" r="2.6"/><circle cx="386.0" cy="594.1" r="2.6"/><circle cx="431.5" cy="599.3" r="2.6"/><circle cx="377.6" cy="617.3" r="2.6"/><circle cx="388.3" cy="627.0" r="2.6"/><circle cx="367.4" cy="595.7" r="2.6"/><circle cx="418.8" cy="603.8" r="2.6"/><circle cx="449.3" cy="611.2" r="2.6"/><circle cx="445.1" cy="634.3" r="2.6"/><circle cx="481.6" cy="602.4" r="2.6"/><circle cx="376.2" cy="611.0" r="2.6"/><circle cx="391.6" cy="597.6" r="2.6"/><circle cx="418.6" cy="646.1" r="2.6"/><circle cx="431.2" cy="652.4" r="2.6"/><circle cx="484.9" cy="608.6" r="2.6"/><circle cx="494.8" cy="643.2" r="2.6"/><circle cx="442.1" cy="569.3" r="2.6"/><circle cx="370.3" cy="549.3" r="2.6"/><circle cx="355.5" cy="555.6" r="2.6"/><circle cx="359.1" cy="555.2" r="2.6"/><circle cx="346.8" cy="566.1" r="2.6"/><circle cx="366.1" cy="561.5" r="2.6"/><circle cx="421.4" cy="548.6" r="2.6"/><circle cx="432.6" cy="552.1" r="2.6"/><circle cx="411.6" cy="557.3" r="2.6"/><circle cx="415.1" cy="558.7" r="2.6"/><circle cx="444.9" cy="557.3" r="2.6"/><circle cx="441.4" cy="562.2" r="2.6"/><circle cx="457.9" cy="553.8" r="2.6"/><circle cx="464.2" cy="551.0" r="2.6"/><circle cx="472.9" cy="553.5" r="2.6"/><circle cx="456.5" cy="559.8" r="2.6"/><circle cx="471.2" cy="566.1" r="2.6"/><circle cx="478.2" cy="564.0" r="2.6"/><circle cx="506.9" cy="555.6" r="2.6"/><circle cx="502.7" cy="566.1" r="2.6"/><circle cx="500.9" cy="568.5" r="2.6"/><circle cx="515.0" cy="573.8" r="2.6"/><circle cx="500.9" cy="576.2" r="2.6"/><circle cx="383.6" cy="565.7" r="2.6"/><circle cx="388.8" cy="562.2" r="2.6"/><circle cx="399.3" cy="565.0" r="2.6"/><circle cx="404.6" cy="566.8" r="2.6"/><circle cx="432.6" cy="561.5" r="2.6"/><circle cx="337.3" cy="595.9" r="2.6"/><circle cx="347.8" cy="589.6" r="2.6"/><circle cx="353.8" cy="589.6" r="2.6"/><circle cx="345.0" cy="607.8" r="2.6"/><circle cx="348.5" cy="612.3" r="2.6"/><circle cx="341.5" cy="622.5" r="2.6"/><circle cx="347.8" cy="620.4" r="2.6"/><circle cx="328.2" cy="641.4" r="2.6"/><circle cx="354.8" cy="649.8" r="2.6"/><circle cx="366.1" cy="650.9" r="2.6"/><circle cx="361.9" cy="635.1" r="2.6"/><circle cx="367.8" cy="642.1" r="2.6"/><circle cx="372.4" cy="643.9" r="2.6"/><circle cx="363.3" cy="582.6" r="2.6"/><circle cx="518.5" cy="584.3" r="2.6"/><circle cx="520.2" cy="588.9" r="2.6"/><circle cx="513.2" cy="590.6" r="2.6"/><circle cx="506.2" cy="595.5" r="2.6"/><circle cx="500.9" cy="587.8" r="2.6"/><circle cx="497.4" cy="593.1" r="2.6"/><circle cx="502.0" cy="598.3" r="2.6"/><circle cx="516.7" cy="598.3" r="2.6"/><circle cx="537.7" cy="599.0" r="2.6"/><circle cx="543.0" cy="600.1" r="2.6"/><circle cx="549.3" cy="602.2" r="2.6"/><circle cx="537.7" cy="611.3" r="2.6"/><circle cx="520.2" cy="607.8" r="2.6"/><circle cx="525.5" cy="618.3" r="2.6"/><circle cx="522.0" cy="629.9" r="2.6"/><circle cx="527.2" cy="629.9" r="2.6"/><circle cx="522.0" cy="639.7" r="2.6"/><circle cx="544.0" cy="641.4" r="2.6"/><circle cx="548.2" cy="636.9" r="2.6"/><circle cx="513.9" cy="629.9" r="2.6"/><circle cx="509.7" cy="624.6" r="2.6"/><circle cx="511.5" cy="620.4" r="2.6"/><circle cx="500.9" cy="631.6" r="2.6"/><circle cx="502.7" cy="636.9" r="2.6"/><circle cx="497.4" cy="641.4" r="2.6"/><circle cx="492.2" cy="650.9" r="2.6"/><circle cx="500.9" cy="653.3" r="2.6"/><circle cx="504.5" cy="649.1" r="2.6"/><circle cx="493.9" cy="642.1" r="2.6"/><circle cx="486.9" cy="649.1" r="2.6"/><circle cx="481.7" cy="650.9" r="2.6"/><circle cx="490.4" cy="656.1" r="2.6"/><circle cx="345.0" cy="680.7" r="2.6"/><circle cx="398.3" cy="680.0" r="2.6"/><circle cx="422.1" cy="688.7" r="2.6"/><circle cx="442.4" cy="701.7" r="2.6"/><circle cx="488.7" cy="682.4" r="2.6"/><circle cx="490.4" cy="673.6" r="2.6"/><circle cx="470.5" cy="670.8" r="2.6"/><circle cx="543.7" cy="672.9" r="2.6"/><circle cx="429.1" cy="673.6" r="2.6"/><circle cx="435.1" cy="672.9" r="2.6"/><circle cx="407.4" cy="669.4" r="2.6"/><circle cx="388.8" cy="659.6" r="2.6"/><circle cx="425.6" cy="661.4" r="2.6"/><circle cx="432.6" cy="654.4" r="2.6"/><circle cx="455.4" cy="664.9" r="2.6"/><circle cx="455.4" cy="661.4" r="2.6"/><circle cx="464.2" cy="662.4" r="2.6"/><circle cx="481.7" cy="660.7" r="2.6"/><circle cx="474.7" cy="656.1" r="2.6"/><circle cx="462.4" cy="654.4" r="2.6"/><circle cx="450.1" cy="656.1" r="2.6"/><circle cx="443.1" cy="652.6" r="2.6"/><circle cx="411.6" cy="652.6" r="2.6"/><circle cx="404.6" cy="650.9" r="2.6"/><circle cx="394.1" cy="650.9" r="2.6"/><circle cx="383.6" cy="647.4" r="2.6"/><circle cx="570.6" cy="587.8" r="2.6"/><circle cx="546.5" cy="626.6" r="2.6"/><circle cx="525.3" cy="625.1" r="2.6"/></g>
<path d="M431.9 604.7L439.3 612.1L431.9 619.5L424.5 612.1Z" fill="#fff" stroke="#000" stroke-width="1.5"/>
<path d="M428.80 603.90L435.60 617.70L422.00 617.70Z" fill="#000"/>
<circle cx="117" cy="858.90" r="2.7" fill="#a6a6a6"/>
<path d="M117 879.10L121.6 887.60L112.4 887.60Z" fill="#000"/>
<path d="M418.8 855.10L422.60 858.90L418.8 862.70L415.00 858.90Z" fill="#fff" stroke="#000" stroke-width="1.3"/>
<line x1="400.7" y1="882.70" x2="429.70" y2="882.70" stroke="#d0d0d0" stroke-width="2.2" stroke-dasharray="10.2 8.4"/>
<g font-family="Liberation Sans, sans-serif" font-size="15.25" fill="#000"><text transform="translate(74.20 804.25) scale(1 1.03)" text-anchor="end">€ 0</text><text transform="translate(74.20 772.50) scale(1 1.03)" text-anchor="end">€ 1,000</text><text transform="translate(74.20 740.75) scale(1 1.03)" text-anchor="end">€ 2,000</text><text transform="translate(74.20 709.00) scale(1 1.03)" text-anchor="end">€ 3,000</text><text transform="translate(74.20 677.25) scale(1 1.03)" text-anchor="end">€ 4,000</text><text transform="translate(74.20 645.50) scale(1 1.03)" text-anchor="end">€ 5,000</text><text transform="translate(74.20 613.75) scale(1 1.03)" text-anchor="end">€ 6,000</text><text transform="translate(74.20 582.00) scale(1 1.03)" text-anchor="end">€ 7,000</text><text transform="translate(74.20 550.25) scale(1 1.03)" text-anchor="end">€ 8,000</text><text transform="translate(74.20 518.50) scale(1 1.03)" text-anchor="end">€ 9,000</text><text transform="translate(74.20 486.75) scale(1 1.03)" text-anchor="end">€ 10,000</text><text transform="translate(87.00 820.90) scale(1 1.03)" text-anchor="middle">0.00</text><text transform="translate(159.50 820.90) scale(1 1.03)" text-anchor="middle">0.20</text><text transform="translate(232.00 820.90) scale(1 1.03)" text-anchor="middle">0.40</text><text transform="translate(304.50 820.90) scale(1 1.03)" text-anchor="middle">0.60</text><text transform="translate(377.00 820.90) scale(1 1.03)" text-anchor="middle">0.80</text><text transform="translate(449.50 820.90) scale(1 1.03)" text-anchor="middle">1.00</text><text transform="translate(522.00 820.90) scale(1 1.03)" text-anchor="middle">1.20</text><text transform="translate(594.50 820.90) scale(1 1.03)" text-anchor="middle">1.40</text><text transform="translate(667.00 820.90) scale(1 1.03)" text-anchor="middle">1.60</text><text transform="translate(376.50 842.60) scale(1 1.03)" text-anchor="middle" font-weight="bold" font-size="15.35">Incremental QALYs</text><text transform="translate(14.60 649.50) rotate(-90) scale(1 1.03)" text-anchor="middle" font-weight="bold" font-size="15.35">Incremental costs</text><text transform="translate(137.80 864.50) scale(1 1.03)">Probabilistic Samples</text><text transform="translate(137.80 888.10) scale(1 1.03)">Deterministic Mean</text><text transform="translate(440.80 864.50) scale(1 1.03)">Probabilistic Mean</text><text transform="translate(440.80 888.10) scale(1 1.03)">€50,000 WTP threshold</text></g>
<line x1="87.50" y1="1258.50" x2="669.30" y2="1258.50" stroke="#d9d9d9" stroke-width="1.4"/>
<line x1="87.50" y1="1234.00" x2="669.30" y2="1234.00" stroke="#d9d9d9" stroke-width="1.4"/>
<line x1="87.50" y1="1209.51" x2="669.30" y2="1209.51" stroke="#d9d9d9" stroke-width="1.4"/>
<line x1="87.50" y1="1185.01" x2="669.30" y2="1185.01" stroke="#d9d9d9" stroke-width="1.4"/>
<line x1="87.50" y1="1160.52" x2="669.30" y2="1160.52" stroke="#d9d9d9" stroke-width="1.4"/>
<line x1="87.50" y1="1111.52" x2="669.30" y2="1111.52" stroke="#d9d9d9" stroke-width="1.4"/>
<line x1="87.50" y1="1087.03" x2="669.30" y2="1087.03" stroke="#d9d9d9" stroke-width="1.4"/>
<line x1="87.50" y1="1062.53" x2="669.30" y2="1062.53" stroke="#d9d9d9" stroke-width="1.4"/>
<line x1="87.50" y1="1038.03" x2="669.30" y2="1038.03" stroke="#d9d9d9" stroke-width="1.4"/>
<line x1="87.50" y1="1013.54" x2="669.30" y2="1013.54" stroke="#d9d9d9" stroke-width="1.4"/>
<line x1="87.50" y1="989.04" x2="669.30" y2="989.04" stroke="#d9d9d9" stroke-width="1.4"/>
<line x1="87.50" y1="964.55" x2="669.30" y2="964.55" stroke="#d9d9d9" stroke-width="1.4"/>
<line x1="87.50" y1="940.05" x2="669.30" y2="940.05" stroke="#d9d9d9" stroke-width="1.4"/>
<line x1="232.95" y1="940.05" x2="87.50" y2="1136.02" stroke="#b8b8b8" stroke-width="1.45" stroke-dasharray="4.7 4.5"/>
<line x1="86.80" y1="1135.60" x2="669.30" y2="1135.60" stroke="#2e2e2e" stroke-width="1.4"/>
<line x1="87.50" y1="939.55" x2="87.50" y2="1257.90" stroke="#2e2e2e" stroke-width="1.4"/>
<g fill="#a6a6a6"><circle cx="411.3" cy="1125.2" r="2.6"/><circle cx="390.7" cy="1125.8" r="2.6"/><circle cx="445.3" cy="1128.5" r="2.6"/><circle cx="434.7" cy="1078.8" r="2.6"/><circle cx="433.9" cy="1122.8" r="2.6"/><circle cx="428.9" cy="1067.3" r="2.6"/><circle cx="490.3" cy="1074.1" r="2.6"/><circle cx="392.3" cy="1041.9" r="2.6"/><circle cx="389.8" cy="1066.2" r="2.6"/><circle cx="347.2" cy="1070.2" r="2.6"/><circle cx="413.7" cy="1033.1" r="2.6"/><circle cx="402.5" cy="1070.8" r="2.6"/><circle cx="469.4" cy="1094.9" r="2.6"/><circle cx="430.0" cy="1132.8" r="2.6"/><circle cx="418.1" cy="1066.2" r="2.6"/><circle cx="473.2" cy="1101.6" r="2.6"/><circle cx="412.5" cy="1081.3" r="2.6"/><circle cx="420.6" cy="1091.0" r="2.6"/><circle cx="451.4" cy="1132.7" r="2.6"/><circle cx="396.9" cy="1054.3" r="2.6"/><circle cx="423.5" cy="1077.2" r="2.6"/><circle cx="394.4" cy="1081.2" r="2.6"/><circle cx="405.9" cy="1079.4" r="2.6"/><circle cx="396.4" cy="1040.3" r="2.6"/><circle cx="463.9" cy="1098.3" r="2.6"/><circle cx="434.5" cy="1067.6" r="2.6"/><circle cx="446.4" cy="1135.6" r="2.6"/><circle cx="500.3" cy="1109.0" r="2.6"/><circle cx="449.8" cy="1137.9" r="2.6"/><circle cx="451.5" cy="1081.9" r="2.6"/><circle cx="432.0" cy="1109.1" r="2.6"/><circle cx="424.7" cy="1062.7" r="2.6"/><circle cx="477.3" cy="1128.6" r="2.6"/><circle cx="486.0" cy="1130.9" r="2.6"/><circle cx="385.8" cy="1050.3" r="2.6"/><circle cx="408.6" cy="1058.3" r="2.6"/><circle cx="400.4" cy="1117.1" r="2.6"/><circle cx="490.7" cy="1135.2" r="2.6"/><circle cx="440.1" cy="1110.9" r="2.6"/><circle cx="377.3" cy="1064.9" r="2.6"/><circle cx="494.3" cy="1142.0" r="2.6"/><circle cx="448.4" cy="1077.6" r="2.6"/><circle cx="406.3" cy="1080.0" r="2.6"/><circle cx="438.5" cy="1094.4" r="2.6"/><circle cx="424.2" cy="1044.4" r="2.6"/><circle cx="487.4" cy="1099.9" r="2.6"/><circle cx="404.7" cy="1051.5" r="2.6"/><circle cx="482.7" cy="1124.3" r="2.6"/><circle cx="426.5" cy="1085.0" r="2.6"/><circle cx="470.0" cy="1115.1" r="2.6"/><circle cx="409.2" cy="1073.0" r="2.6"/><circle cx="463.9" cy="1090.0" r="2.6"/><circle cx="414.7" cy="1065.9" r="2.6"/><circle cx="454.6" cy="1055.9" r="2.6"/><circle cx="387.3" cy="1129.6" r="2.6"/><circle cx="414.8" cy="1075.3" r="2.6"/><circle cx="383.6" cy="1087.1" r="2.6"/><circle cx="450.7" cy="1086.4" r="2.6"/><circle cx="431.0" cy="1091.8" r="2.6"/><circle cx="451.1" cy="1129.1" r="2.6"/><circle cx="445.8" cy="1067.8" r="2.6"/><circle cx="412.4" cy="1112.1" r="2.6"/><circle cx="423.2" cy="1101.5" r="2.6"/><circle cx="427.1" cy="1086.4" r="2.6"/><circle cx="459.3" cy="1070.8" r="2.6"/><circle cx="411.8" cy="1111.5" r="2.6"/><circle cx="383.3" cy="1111.5" r="2.6"/><circle cx="460.2" cy="1065.5" r="2.6"/><circle cx="421.0" cy="1066.1" r="2.6"/><circle cx="390.9" cy="1128.2" r="2.6"/><circle cx="485.4" cy="1126.5" r="2.6"/><circle cx="419.6" cy="1033.3" r="2.6"/><circle cx="413.7" cy="1076.4" r="2.6"/><circle cx="491.8" cy="1097.3" r="2.6"/><circle cx="447.9" cy="1100.3" r="2.6"/><circle cx="464.0" cy="1112.8" r="2.6"/><circle cx="429.2" cy="1093.3" r="2.6"/><circle cx="418.3" cy="1099.4" r="2.6"/><circle cx="413.8" cy="1114.1" r="2.6"/><circle cx="396.5" cy="1120.3" r="2.6"/><circle cx="462.1" cy="1140.0" r="2.6"/><circle cx="419.1" cy="1080.9" r="2.6"/><circle cx="441.2" cy="1106.1" r="2.6"/><circle cx="486.1" cy="1150.3" r="2.6"/><circle cx="419.6" cy="1096.4" r="2.6"/><circle cx="456.6" cy="1141.1" r="2.6"/><circle cx="427.2" cy="1116.4" r="2.6"/><circle cx="456.9" cy="1104.0" r="2.6"/><circle cx="439.8" cy="1096.3" r="2.6"/><circle cx="422.2" cy="1120.3" r="2.6"/><circle cx="361.3" cy="1083.4" r="2.6"/><circle cx="472.7" cy="1065.0" r="2.6"/><circle cx="440.9" cy="1107.3" r="2.6"/><circle cx="490.3" cy="1129.6" r="2.6"/><circle cx="420.9" cy="1056.4" r="2.6"/><circle cx="489.5" cy="1144.4" r="2.6"/><circle cx="466.3" cy="1088.8" r="2.6"/><circle cx="431.0" cy="1081.1" r="2.6"/><circle cx="478.5" cy="1143.0" r="2.6"/><circle cx="443.5" cy="1104.9" r="2.6"/><circle cx="408.3" cy="1078.5" r="2.6"/><circle cx="424.6" cy="1111.0" r="2.6"/><circle cx="376.2" cy="1106.3" r="2.6"/><circle cx="440.6" cy="1073.9" r="2.6"/><circle cx="457.3" cy="1114.1" r="2.6"/><circle cx="425.6" cy="1085.8" r="2.6"/><circle cx="495.6" cy="1139.0" r="2.6"/><circle cx="434.9" cy="1108.4" r="2.6"/><circle cx="434.9" cy="1123.9" r="2.6"/><circle cx="499.8" cy="1136.0" r="2.6"/><circle cx="380.9" cy="1087.4" r="2.6"/><circle cx="458.5" cy="1122.5" r="2.6"/><circle cx="427.1" cy="1119.3" r="2.6"/><circle cx="445.8" cy="1083.1" r="2.6"/><circle cx="429.4" cy="1083.7" r="2.6"/><circle cx="483.2" cy="1099.5" r="2.6"/><circle cx="433.3" cy="1098.6" r="2.6"/><circle cx="392.2" cy="1032.1" r="2.6"/><circle cx="405.6" cy="1113.4" r="2.6"/><circle cx="488.2" cy="1110.7" r="2.6"/><circle cx="432.3" cy="1128.5" r="2.6"/><circle cx="419.9" cy="1110.1" r="2.6"/><circle cx="409.6" cy="1111.3" r="2.6"/><circle cx="445.7" cy="1082.8" r="2.6"/><circle cx="422.8" cy="1085.5" r="2.6"/><circle cx="388.7" cy="1041.1" r="2.6"/><circle cx="443.9" cy="1090.2" r="2.6"/><circle cx="386.0" cy="1081.4" r="2.6"/><circle cx="446.2" cy="1053.4" r="2.6"/><circle cx="421.3" cy="1058.4" r="2.6"/><circle cx="470.5" cy="1116.2" r="2.6"/><circle cx="458.7" cy="1099.7" r="2.6"/><circle cx="394.8" cy="1071.9" r="2.6"/><circle cx="413.1" cy="1029.9" r="2.6"/><circle cx="478.3" cy="1091.7" r="2.6"/><circle cx="470.7" cy="1080.4" r="2.6"/><circle cx="363.2" cy="1039.6" r="2.6"/><circle cx="406.8" cy="1090.1" r="2.6"/><circle cx="393.0" cy="1078.5" r="2.6"/><circle cx="460.0" cy="1094.4" r="2.6"/><circle cx="455.4" cy="1108.5" r="2.6"/><circle cx="486.3" cy="1120.5" r="2.6"/><circle cx="430.9" cy="1120.8" r="2.6"/><circle cx="425.5" cy="1126.9" r="2.6"/><circle cx="430.7" cy="1061.5" r="2.6"/><circle cx="413.1" cy="1072.6" r="2.6"/><circle cx="402.0" cy="1077.6" r="2.6"/><circle cx="479.1" cy="1096.6" r="2.6"/><circle cx="416.2" cy="1091.3" r="2.6"/><circle cx="412.5" cy="1051.5" r="2.6"/><circle cx="403.8" cy="1047.8" r="2.6"/><circle cx="389.5" cy="1071.4" r="2.6"/><circle cx="478.8" cy="1098.6" r="2.6"/><circle cx="450.1" cy="1098.3" r="2.6"/><circle cx="425.3" cy="1055.7" r="2.6"/><circle cx="401.7" cy="1034.9" r="2.6"/><circle cx="442.9" cy="1115.3" r="2.6"/><circle cx="467.0" cy="1115.9" r="2.6"/><circle cx="471.4" cy="1086.9" r="2.6"/><circle cx="470.6" cy="1109.5" r="2.6"/><circle cx="458.0" cy="1067.9" r="2.6"/><circle cx="457.9" cy="1076.2" r="2.6"/><circle cx="490.0" cy="1102.3" r="2.6"/><circle cx="419.9" cy="1069.2" r="2.6"/><circle cx="432.7" cy="1103.8" r="2.6"/><circle cx="414.2" cy="1098.1" r="2.6"/><circle cx="426.8" cy="1071.0" r="2.6"/><circle cx="414.8" cy="1136.0" r="2.6"/><circle cx="385.1" cy="1042.4" r="2.6"/><circle cx="455.5" cy="1070.2" r="2.6"/><circle cx="480.0" cy="1082.9" r="2.6"/><circle cx="418.5" cy="1080.6" r="2.6"/><circle cx="456.8" cy="1083.5" r="2.6"/><circle cx="357.7" cy="1078.3" r="2.6"/><circle cx="433.6" cy="1087.8" r="2.6"/><circle cx="397.6" cy="1127.3" r="2.6"/><circle cx="449.4" cy="1090.7" r="2.6"/><circle cx="402.8" cy="1082.6" r="2.6"/><circle cx="416.4" cy="1039.6" r="2.6"/><circle cx="477.5" cy="1080.2" r="2.6"/><circle cx="429.4" cy="1121.8" r="2.6"/><circle cx="472.0" cy="1071.1" r="2.6"/><circle cx="412.0" cy="1106.8" r="2.6"/><circle cx="407.4" cy="1099.4" r="2.6"/><circle cx="454.0" cy="1110.8" r="2.6"/><circle cx="467.0" cy="1133.9" r="2.6"/><circle cx="423.4" cy="1110.3" r="2.6"/><circle cx="481.5" cy="1112.4" r="2.6"/><circle cx="480.7" cy="1146.9" r="2.6"/><circle cx="400.0" cy="1114.2" r="2.6"/><circle cx="387.7" cy="1080.6" r="2.6"/><circle cx="451.3" cy="1117.0" r="2.6"/><circle cx="412.7" cy="1130.6" r="2.6"/><circle cx="451.7" cy="1117.7" r="2.6"/><circle cx="432.1" cy="1099.1" r="2.6"/><circle cx="407.6" cy="1082.1" r="2.6"/><circle cx="457.2" cy="1095.3" r="2.6"/><circle cx="447.1" cy="1079.1" r="2.6"/><circle cx="466.3" cy="1089.8" r="2.6"/><circle cx="386.2" cy="1078.0" r="2.6"/><circle cx="473.7" cy="1081.3" r="2.6"/><circle cx="449.5" cy="1090.2" r="2.6"/><circle cx="410.7" cy="1076.7" r="2.6"/><circle cx="449.3" cy="1127.7" r="2.6"/><circle cx="423.4" cy="1078.9" r="2.6"/><circle cx="464.0" cy="1124.4" r="2.6"/><circle cx="417.2" cy="1108.9" r="2.6"/><circle cx="411.1" cy="1084.1" r="2.6"/><circle cx="455.6" cy="1127.9" r="2.6"/><circle cx="476.8" cy="1092.9" r="2.6"/><circle cx="425.5" cy="1057.4" r="2.6"/><circle cx="476.6" cy="1139.7" r="2.6"/><circle cx="448.9" cy="1118.2" r="2.6"/><circle cx="432.2" cy="1070.0" r="2.6"/><circle cx="451.0" cy="1098.4" r="2.6"/><circle cx="437.4" cy="1101.5" r="2.6"/><circle cx="407.7" cy="1109.9" r="2.6"/><circle cx="455.7" cy="1086.9" r="2.6"/><circle cx="438.0" cy="1121.4" r="2.6"/><circle cx="486.3" cy="1067.2" r="2.6"/><circle cx="383.8" cy="1090.9" r="2.6"/><circle cx="472.5" cy="1072.7" r="2.6"/><circle cx="406.1" cy="1058.6" r="2.6"/><circle cx="394.0" cy="1100.1" r="2.6"/><circle cx="431.5" cy="1087.9" r="2.6"/><circle cx="470.1" cy="1111.0" r="2.6"/><circle cx="449.8" cy="1089.4" r="2.6"/><circle cx="456.9" cy="1086.6" r="2.6"/><circle cx="482.3" cy="1093.5" r="2.6"/><circle cx="386.3" cy="1112.7" r="2.6"/><circle cx="438.3" cy="1102.4" r="2.6"/><circle cx="391.0" cy="1073.8" r="2.6"/><circle cx="460.1" cy="1084.0" r="2.6"/><circle cx="455.1" cy="1084.2" r="2.6"/><circle cx="420.2" cy="1104.2" r="2.6"/><circle cx="456.2" cy="1129.2" r="2.6"/><circle cx="416.3" cy="1102.9" r="2.6"/><circle cx="437.1" cy="1096.5" r="2.6"/><circle cx="414.2" cy="1129.8" r="2.6"/><circle cx="432.5" cy="1028.8" r="2.6"/><circle cx="408.1" cy="1054.2" r="2.6"/><circle cx="449.6" cy="1081.1" r="2.6"/><circle cx="479.8" cy="1141.6" r="2.6"/><circle cx="461.3" cy="1110.3" r="2.6"/><circle cx="449.1" cy="1126.5" r="2.6"/><circle cx="431.3" cy="1111.8" r="2.6"/><circle cx="454.8" cy="1100.0" r="2.6"/><circle cx="475.8" cy="1076.0" r="2.6"/><circle cx="433.6" cy="1119.4" r="2.6"/><circle cx="459.0" cy="1114.9" r="2.6"/><circle cx="413.4" cy="1122.2" r="2.6"/><circle cx="420.0" cy="1100.4" r="2.6"/><circle cx="493.6" cy="1099.7" r="2.6"/><circle cx="430.8" cy="1112.7" r="2.6"/><circle cx="428.5" cy="1066.9" r="2.6"/><circle cx="394.5" cy="1043.1" r="2.6"/><circle cx="406.1" cy="1091.5" r="2.6"/><circle cx="460.5" cy="1133.3" r="2.6"/><circle cx="447.9" cy="1064.3" r="2.6"/><circle cx="422.3" cy="1104.8" r="2.6"/><circle cx="424.0" cy="1101.9" r="2.6"/><circle cx="470.0" cy="1083.6" r="2.6"/><circle cx="478.1" cy="1058.7" r="2.6"/><circle cx="367.2" cy="1102.1" r="2.6"/><circle cx="429.0" cy="1121.1" r="2.6"/><circle cx="445.8" cy="1057.3" r="2.6"/><circle cx="412.5" cy="1087.0" r="2.6"/><circle cx="370.7" cy="1104.5" r="2.6"/><circle cx="371.2" cy="1067.1" r="2.6"/><circle cx="399.1" cy="1105.5" r="2.6"/><circle cx="456.5" cy="1080.6" r="2.6"/><circle cx="472.9" cy="1068.5" r="2.6"/><circle cx="455.3" cy="1092.3" r="2.6"/><circle cx="436.1" cy="1100.9" r="2.6"/><circle cx="424.0" cy="1085.5" r="2.6"/><circle cx="439.5" cy="1118.8" r="2.6"/><circle cx="386.3" cy="1072.5" r="2.6"/><circle cx="501.6" cy="1110.2" r="2.6"/><circle cx="398.3" cy="1063.7" r="2.6"/><circle cx="433.2" cy="1054.8" r="2.6"/><circle cx="426.5" cy="1080.7" r="2.6"/><circle cx="496.8" cy="1086.1" r="2.6"/><circle cx="421.7" cy="1071.6" r="2.6"/><circle cx="485.1" cy="1122.5" r="2.6"/><circle cx="425.7" cy="1088.9" r="2.6"/><circle cx="424.5" cy="1034.8" r="2.6"/><circle cx="423.4" cy="1082.6" r="2.6"/><circle cx="444.8" cy="1126.4" r="2.6"/><circle cx="480.4" cy="1133.6" r="2.6"/><circle cx="454.7" cy="1065.1" r="2.6"/><circle cx="437.7" cy="1118.4" r="2.6"/><circle cx="430.5" cy="1050.2" r="2.6"/><circle cx="418.7" cy="1065.3" r="2.6"/><circle cx="449.6" cy="1085.7" r="2.6"/><circle cx="431.0" cy="1060.5" r="2.6"/><circle cx="424.3" cy="1098.9" r="2.6"/><circle cx="438.8" cy="1054.4" r="2.6"/><circle cx="415.9" cy="1076.1" r="2.6"/><circle cx="402.2" cy="1046.7" r="2.6"/><circle cx="460.5" cy="1116.9" r="2.6"/><circle cx="454.7" cy="1106.4" r="2.6"/><circle cx="451.3" cy="1127.8" r="2.6"/><circle cx="471.3" cy="1090.0" r="2.6"/><circle cx="445.1" cy="1106.3" r="2.6"/><circle cx="491.4" cy="1142.7" r="2.6"/><circle cx="391.7" cy="1096.4" r="2.6"/><circle cx="461.6" cy="1058.5" r="2.6"/><circle cx="421.7" cy="1131.0" r="2.6"/><circle cx="485.4" cy="1119.6" r="2.6"/><circle cx="422.7" cy="1102.3" r="2.6"/><circle cx="431.5" cy="1104.6" r="2.6"/><circle cx="446.6" cy="1081.3" r="2.6"/><circle cx="437.8" cy="1108.5" r="2.6"/><circle cx="471.7" cy="1138.8" r="2.6"/><circle cx="428.3" cy="1106.5" r="2.6"/><circle cx="451.8" cy="1067.1" r="2.6"/><circle cx="475.8" cy="1145.2" r="2.6"/><circle cx="443.7" cy="1106.9" r="2.6"/><circle cx="485.5" cy="1091.3" r="2.6"/><circle cx="435.2" cy="1088.7" r="2.6"/><circle cx="398.8" cy="1103.2" r="2.6"/><circle cx="385.7" cy="1085.8" r="2.6"/><circle cx="515.5" cy="1086.6" r="2.6"/><circle cx="507.1" cy="1111.0" r="2.6"/><circle cx="437.7" cy="1041.7" r="2.6"/><circle cx="410.9" cy="1058.1" r="2.6"/><circle cx="434.3" cy="1093.6" r="2.6"/><circle cx="489.3" cy="1152.5" r="2.6"/><circle cx="460.4" cy="1052.2" r="2.6"/><circle cx="428.0" cy="1120.2" r="2.6"/><circle cx="443.3" cy="1087.6" r="2.6"/><circle cx="380.2" cy="1073.0" r="2.6"/><circle cx="421.3" cy="1115.3" r="2.6"/><circle cx="470.2" cy="1118.4" r="2.6"/><circle cx="451.0" cy="1113.0" r="2.6"/><circle cx="480.1" cy="1129.8" r="2.6"/><circle cx="428.7" cy="1089.4" r="2.6"/><circle cx="413.7" cy="1057.7" r="2.6"/><circle cx="455.3" cy="1135.0" r="2.6"/><circle cx="420.7" cy="1039.3" r="2.6"/><circle cx="505.1" cy="1137.1" r="2.6"/><circle cx="470.7" cy="1136.2" r="2.6"/><circle cx="469.1" cy="1130.6" r="2.6"/><circle cx="401.0" cy="1097.8" r="2.6"/><circle cx="463.2" cy="1122.4" r="2.6"/><circle cx="394.9" cy="1112.7" r="2.6"/><circle cx="496.0" cy="1102.5" r="2.6"/><circle cx="431.7" cy="1079.6" r="2.6"/><circle cx="398.5" cy="1057.8" r="2.6"/><circle cx="447.9" cy="1073.5" r="2.6"/><circle cx="407.5" cy="1116.8" r="2.6"/><circle cx="474.6" cy="1083.2" r="2.6"/><circle cx="420.2" cy="1065.6" r="2.6"/><circle cx="455.1" cy="1083.6" r="2.6"/><circle cx="427.6" cy="1054.7" r="2.6"/><circle cx="457.2" cy="1115.7" r="2.6"/><circle cx="473.8" cy="1142.7" r="2.6"/><circle cx="457.1" cy="1110.1" r="2.6"/><circle cx="487.6" cy="1101.5" r="2.6"/><circle cx="433.1" cy="1100.2" r="2.6"/><circle cx="398.9" cy="1079.4" r="2.6"/><circle cx="449.3" cy="1137.1" r="2.6"/><circle cx="471.2" cy="1132.8" r="2.6"/><circle cx="455.3" cy="1123.9" r="2.6"/><circle cx="518.1" cy="1103.5" r="2.6"/><circle cx="421.5" cy="1044.0" r="2.6"/><circle cx="389.2" cy="1121.3" r="2.6"/><circle cx="463.6" cy="1083.5" r="2.6"/><circle cx="444.4" cy="1079.1" r="2.6"/><circle cx="455.1" cy="1081.4" r="2.6"/><circle cx="452.0" cy="1126.3" r="2.6"/><circle cx="391.0" cy="1057.3" r="2.6"/><circle cx="448.5" cy="1086.9" r="2.6"/><circle cx="458.3" cy="1134.3" r="2.6"/><circle cx="400.9" cy="1082.1" r="2.6"/><circle cx="415.5" cy="1079.9" r="2.6"/><circle cx="479.6" cy="1093.2" r="2.6"/><circle cx="448.2" cy="1066.5" r="2.6"/><circle cx="414.0" cy="1102.4" r="2.6"/><circle cx="471.6" cy="1110.6" r="2.6"/><circle cx="446.0" cy="1132.0" r="2.6"/><circle cx="451.7" cy="1081.6" r="2.6"/><circle cx="403.0" cy="1123.1" r="2.6"/><circle cx="431.2" cy="1094.1" r="2.6"/><circle cx="474.7" cy="1093.7" r="2.6"/><circle cx="441.2" cy="1101.6" r="2.6"/><circle cx="428.0" cy="1134.6" r="2.6"/><circle cx="443.7" cy="1109.4" r="2.6"/><circle cx="426.0" cy="1037.7" r="2.6"/><circle cx="440.8" cy="1077.5" r="2.6"/><circle cx="468.4" cy="1137.1" r="2.6"/><circle cx="428.9" cy="1062.5" r="2.6"/><circle cx="473.6" cy="1116.2" r="2.6"/><circle cx="441.1" cy="1129.7" r="2.6"/><circle cx="493.3" cy="1103.0" r="2.6"/><circle cx="408.3" cy="1107.2" r="2.6"/><circle cx="402.9" cy="1095.5" r="2.6"/><circle cx="493.1" cy="1090.4" r="2.6"/><circle cx="464.8" cy="1121.9" r="2.6"/><circle cx="503.7" cy="1115.2" r="2.6"/><circle cx="449.7" cy="1137.1" r="2.6"/><circle cx="456.1" cy="1121.4" r="2.6"/><circle cx="406.0" cy="1085.8" r="2.6"/><circle cx="479.8" cy="1103.6" r="2.6"/><circle cx="420.8" cy="1102.4" r="2.6"/><circle cx="395.2" cy="1104.5" r="2.6"/><circle cx="466.0" cy="1109.4" r="2.6"/><circle cx="397.3" cy="1106.7" r="2.6"/><circle cx="466.9" cy="1092.0" r="2.6"/><circle cx="404.2" cy="1103.8" r="2.6"/><circle cx="351.1" cy="1082.8" r="2.6"/><circle cx="488.9" cy="1124.5" r="2.6"/><circle cx="502.6" cy="1101.1" r="2.6"/><circle cx="396.4" cy="1037.0" r="2.6"/><circle cx="448.5" cy="1120.2" r="2.6"/><circle cx="483.8" cy="1112.0" r="2.6"/><circle cx="430.7" cy="1081.0" r="2.6"/><circle cx="425.8" cy="1079.1" r="2.6"/><circle cx="443.0" cy="1116.6" r="2.6"/><circle cx="448.1" cy="1114.1" r="2.6"/><circle cx="437.9" cy="1075.3" r="2.6"/><circle cx="443.0" cy="1105.9" r="2.6"/><circle cx="415.3" cy="1083.7" r="2.6"/><circle cx="424.1" cy="1101.9" r="2.6"/><circle cx="444.0" cy="1117.3" r="2.6"/><circle cx="502.6" cy="1085.6" r="2.6"/><circle cx="378.1" cy="1066.6" r="2.6"/><circle cx="470.1" cy="1124.5" r="2.6"/><circle cx="465.0" cy="1110.5" r="2.6"/><circle cx="463.2" cy="1057.5" r="2.6"/><circle cx="480.7" cy="1122.4" r="2.6"/><circle cx="413.1" cy="1050.9" r="2.6"/><circle cx="449.8" cy="1085.0" r="2.6"/><circle cx="450.3" cy="1114.2" r="2.6"/><circle cx="455.2" cy="1133.0" r="2.6"/><circle cx="411.2" cy="1118.6" r="2.6"/><circle cx="411.3" cy="1086.2" r="2.6"/><circle cx="397.4" cy="1048.5" r="2.6"/><circle cx="434.0" cy="1066.7" r="2.6"/><circle cx="410.1" cy="1039.7" r="2.6"/><circle cx="424.1" cy="1054.2" r="2.6"/><circle cx="454.6" cy="1070.9" r="2.6"/><circle cx="482.9" cy="1104.3" r="2.6"/><circle cx="414.0" cy="1096.7" r="2.6"/><circle cx="406.2" cy="1083.9" r="2.6"/><circle cx="430.6" cy="1119.8" r="2.6"/><circle cx="396.1" cy="1042.5" r="2.6"/><circle cx="448.9" cy="1134.5" r="2.6"/><circle cx="483.0" cy="1115.9" r="2.6"/><circle cx="485.7" cy="1108.8" r="2.6"/><circle cx="376.3" cy="1091.9" r="2.6"/><circle cx="430.3" cy="1097.9" r="2.6"/><circle cx="409.0" cy="1073.4" r="2.6"/><circle cx="419.1" cy="1107.7" r="2.6"/><circle cx="409.4" cy="1126.6" r="2.6"/><circle cx="469.7" cy="1115.5" r="2.6"/><circle cx="422.7" cy="1104.5" r="2.6"/><circle cx="464.7" cy="1079.9" r="2.6"/><circle cx="432.8" cy="1075.3" r="2.6"/><circle cx="425.7" cy="1081.1" r="2.6"/><circle cx="439.7" cy="1101.0" r="2.6"/><circle cx="411.1" cy="1098.6" r="2.6"/><circle cx="479.9" cy="1088.3" r="2.6"/><circle cx="435.5" cy="1060.5" r="2.6"/><circle cx="427.2" cy="1110.6" r="2.6"/><circle cx="484.9" cy="1078.1" r="2.6"/><circle cx="445.6" cy="1130.3" r="2.6"/><circle cx="502.0" cy="1092.8" r="2.6"/><circle cx="408.4" cy="1094.8" r="2.6"/><circle cx="458.0" cy="1094.5" r="2.6"/><circle cx="403.3" cy="1060.3" r="2.6"/><circle cx="418.5" cy="1106.6" r="2.6"/><circle cx="499.5" cy="1115.7" r="2.6"/><circle cx="411.3" cy="1091.9" r="2.6"/><circle cx="466.7" cy="1124.7" r="2.6"/><circle cx="393.9" cy="1069.8" r="2.6"/><circle cx="459.6" cy="1088.9" r="2.6"/><circle cx="414.7" cy="1127.5" r="2.6"/><circle cx="451.0" cy="1043.3" r="2.6"/><circle cx="411.1" cy="1047.8" r="2.6"/><circle cx="461.3" cy="1122.1" r="2.6"/><circle cx="422.8" cy="1099.0" r="2.6"/><circle cx="415.1" cy="1077.8" r="2.6"/><circle cx="439.0" cy="1079.2" r="2.6"/><circle cx="410.3" cy="1068.8" r="2.6"/><circle cx="439.3" cy="1068.1" r="2.6"/><circle cx="391.1" cy="1060.8" r="2.6"/><circle cx="453.1" cy="1114.4" r="2.6"/><circle cx="488.0" cy="1122.3" r="2.6"/><circle cx="401.7" cy="1086.3" r="2.6"/><circle cx="399.2" cy="1088.0" r="2.6"/><circle cx="447.2" cy="1110.9" r="2.6"/><circle cx="382.8" cy="1037.6" r="2.6"/><circle cx="444.3" cy="1103.7" r="2.6"/><circle cx="465.6" cy="1141.5" r="2.6"/><circle cx="435.0" cy="1117.7" r="2.6"/><circle cx="485.0" cy="1101.8" r="2.6"/><circle cx="409.3" cy="1064.5" r="2.6"/><circle cx="414.8" cy="1055.7" r="2.6"/><circle cx="423.5" cy="1095.8" r="2.6"/><circle cx="378.7" cy="1030.5" r="2.6"/><circle cx="461.8" cy="1131.1" r="2.6"/><circle cx="469.9" cy="1121.8" r="2.6"/><circle cx="420.2" cy="1100.1" r="2.6"/><circle cx="491.2" cy="1111.0" r="2.6"/><circle cx="417.9" cy="1052.7" r="2.6"/><circle cx="444.1" cy="1089.0" r="2.6"/><circle cx="435.4" cy="1069.9" r="2.6"/><circle cx="491.4" cy="1106.8" r="2.6"/><circle cx="461.7" cy="1126.3" r="2.6"/><circle cx="463.4" cy="1092.6" r="2.6"/><circle cx="411.8" cy="1111.5" r="2.6"/><circle cx="417.0" cy="1090.4" r="2.6"/><circle cx="424.1" cy="1089.8" r="2.6"/><circle cx="476.0" cy="1136.2" r="2.6"/><circle cx="456.0" cy="1075.3" r="2.6"/><circle cx="501.2" cy="1086.1" r="2.6"/><circle cx="436.9" cy="1081.5" r="2.6"/><circle cx="407.3" cy="1094.5" r="2.6"/><circle cx="476.2" cy="1090.8" r="2.6"/><circle cx="494.0" cy="1131.1" r="2.6"/><circle cx="418.8" cy="1129.3" r="2.6"/><circle cx="468.8" cy="1140.9" r="2.6"/><circle cx="493.2" cy="1122.5" r="2.6"/><circle cx="413.3" cy="1087.7" r="2.6"/><circle cx="478.7" cy="1104.9" r="2.6"/><circle cx="417.5" cy="1063.0" r="2.6"/><circle cx="480.1" cy="1089.4" r="2.6"/><circle cx="400.1" cy="1113.5" r="2.6"/><circle cx="387.3" cy="1063.5" r="2.6"/><circle cx="399.6" cy="1079.5" r="2.6"/><circle cx="460.5" cy="1066.2" r="2.6"/><circle cx="484.2" cy="1070.0" r="2.6"/><circle cx="443.7" cy="1115.0" r="2.6"/><circle cx="449.2" cy="1126.8" r="2.6"/><circle cx="424.0" cy="1118.7" r="2.6"/><circle cx="486.9" cy="1078.2" r="2.6"/><circle cx="498.2" cy="1124.4" r="2.6"/><circle cx="440.3" cy="1102.4" r="2.6"/><circle cx="463.3" cy="1126.1" r="2.6"/><circle cx="449.4" cy="1134.4" r="2.6"/><circle cx="475.8" cy="1090.3" r="2.6"/><circle cx="435.3" cy="1070.1" r="2.6"/><circle cx="381.3" cy="1117.4" r="2.6"/><circle cx="420.0" cy="1103.3" r="2.6"/><circle cx="407.8" cy="1084.4" r="2.6"/><circle cx="468.5" cy="1106.0" r="2.6"/><circle cx="425.4" cy="1052.4" r="2.6"/><circle cx="392.5" cy="1098.8" r="2.6"/><circle cx="381.7" cy="1099.6" r="2.6"/><circle cx="425.9" cy="1061.4" r="2.6"/><circle cx="410.7" cy="1113.0" r="2.6"/><circle cx="495.6" cy="1134.4" r="2.6"/><circle cx="455.8" cy="1119.6" r="2.6"/><circle cx="432.7" cy="1118.1" r="2.6"/><circle cx="413.3" cy="1103.4" r="2.6"/><circle cx="392.7" cy="1058.8" r="2.6"/><circle cx="454.7" cy="1097.2" r="2.6"/><circle cx="398.2" cy="1081.2" r="2.6"/><circle cx="401.3" cy="1043.1" r="2.6"/><circle cx="449.0" cy="1131.6" r="2.6"/><circle cx="471.5" cy="1139.7" r="2.6"/><circle cx="418.0" cy="1089.8" r="2.6"/><circle cx="422.9" cy="1063.7" r="2.6"/><circle cx="382.2" cy="1095.8" r="2.6"/><circle cx="504.4" cy="1086.7" r="2.6"/><circle cx="452.2" cy="1081.0" r="2.6"/><circle cx="428.0" cy="1100.9" r="2.6"/><circle cx="442.4" cy="1045.9" r="2.6"/><circle cx="403.3" cy="1092.0" r="2.6"/><circle cx="486.1" cy="1118.8" r="2.6"/><circle cx="471.4" cy="1124.9" r="2.6"/><circle cx="415.1" cy="1102.0" r="2.6"/><circle cx="410.5" cy="1136.8" r="2.6"/><circle cx="413.4" cy="1075.1" r="2.6"/><circle cx="448.6" cy="1075.8" r="2.6"/><circle cx="504.1" cy="1091.6" r="2.6"/><circle cx="448.4" cy="1105.2" r="2.6"/><circle cx="476.8" cy="1129.7" r="2.6"/><circle cx="425.2" cy="1091.6" r="2.6"/><circle cx="389.0" cy="1095.8" r="2.6"/><circle cx="460.4" cy="1084.7" r="2.6"/><circle cx="427.8" cy="1051.4" r="2.6"/><circle cx="455.6" cy="1079.6" r="2.6"/><circle cx="501.4" cy="1098.6" r="2.6"/><circle cx="440.2" cy="1117.5" r="2.6"/><circle cx="413.3" cy="1080.7" r="2.6"/><circle cx="407.5" cy="1071.3" r="2.6"/><circle cx="418.4" cy="1044.4" r="2.6"/><circle cx="425.9" cy="1050.9" r="2.6"/><circle cx="455.1" cy="1069.5" r="2.6"/><circle cx="444.0" cy="1120.9" r="2.6"/><circle cx="464.4" cy="1083.0" r="2.6"/><circle cx="496.7" cy="1138.3" r="2.6"/><circle cx="483.7" cy="1068.3" r="2.6"/><circle cx="398.4" cy="1088.6" r="2.6"/><circle cx="415.9" cy="1065.2" r="2.6"/><circle cx="439.5" cy="1107.5" r="2.6"/><circle cx="425.0" cy="1121.4" r="2.6"/><circle cx="456.2" cy="1112.3" r="2.6"/><circle cx="430.8" cy="1094.1" r="2.6"/><circle cx="494.8" cy="1078.9" r="2.6"/><circle cx="455.2" cy="1092.3" r="2.6"/><circle cx="511.0" cy="1104.6" r="2.6"/><circle cx="434.5" cy="1038.1" r="2.6"/><circle cx="463.0" cy="1119.1" r="2.6"/><circle cx="424.0" cy="1129.5" r="2.6"/><circle cx="455.6" cy="1092.5" r="2.6"/><circle cx="415.2" cy="1136.1" r="2.6"/><circle cx="429.5" cy="1112.9" r="2.6"/><circle cx="430.2" cy="1112.7" r="2.6"/><circle cx="431.7" cy="1107.9" r="2.6"/><circle cx="420.5" cy="1116.4" r="2.6"/><circle cx="434.1" cy="1110.0" r="2.6"/><circle cx="387.6" cy="1118.5" r="2.6"/><circle cx="435.0" cy="1111.1" r="2.6"/><circle cx="389.8" cy="1105.3" r="2.6"/><circle cx="391.2" cy="1100.9" r="2.6"/><circle cx="459.5" cy="1115.3" r="2.6"/><circle cx="408.4" cy="1074.4" r="2.6"/><circle cx="461.1" cy="1071.9" r="2.6"/><circle cx="440.0" cy="1102.9" r="2.6"/><circle cx="434.5" cy="1080.0" r="2.6"/><circle cx="452.7" cy="1072.4" r="2.6"/><circle cx="415.6" cy="1048.2" r="2.6"/><circle cx="436.8" cy="1091.3" r="2.6"/><circle cx="379.8" cy="1090.6" r="2.6"/><circle cx="472.7" cy="1105.6" r="2.6"/><circle cx="452.7" cy="1133.1" r="2.6"/><circle cx="393.7" cy="1082.3" r="2.6"/><circle cx="442.0" cy="1104.8" r="2.6"/><circle cx="391.3" cy="1104.2" r="2.6"/><circle cx="414.7" cy="1124.9" r="2.6"/><circle cx="444.2" cy="1114.0" r="2.6"/><circle cx="419.8" cy="1045.8" r="2.6"/><circle cx="515.2" cy="1130.8" r="2.6"/><circle cx="473.3" cy="1129.4" r="2.6"/><circle cx="402.2" cy="1048.8" r="2.6"/><circle cx="378.4" cy="1075.5" r="2.6"/><circle cx="403.0" cy="1072.8" r="2.6"/><circle cx="441.1" cy="1079.3" r="2.6"/><circle cx="466.9" cy="1126.0" r="2.6"/><circle cx="427.9" cy="1064.6" r="2.6"/><circle cx="395.3" cy="1038.8" r="2.6"/><circle cx="454.7" cy="1061.2" r="2.6"/><circle cx="372.7" cy="1065.2" r="2.6"/><circle cx="420.3" cy="1033.2" r="2.6"/><circle cx="380.4" cy="1063.3" r="2.6"/><circle cx="463.1" cy="1110.1" r="2.6"/><circle cx="486.3" cy="1142.6" r="2.6"/><circle cx="424.4" cy="1052.7" r="2.6"/><circle cx="447.8" cy="1061.7" r="2.6"/><circle cx="411.4" cy="1046.9" r="2.6"/><circle cx="374.3" cy="1080.5" r="2.6"/><circle cx="431.7" cy="1079.7" r="2.6"/><circle cx="407.3" cy="1065.8" r="2.6"/><circle cx="427.7" cy="1133.4" r="2.6"/><circle cx="385.2" cy="1108.5" r="2.6"/><circle cx="455.8" cy="1124.5" r="2.6"/><circle cx="457.7" cy="1045.9" r="2.6"/><circle cx="467.5" cy="1105.8" r="2.6"/><circle cx="430.7" cy="1115.4" r="2.6"/><circle cx="480.1" cy="1127.0" r="2.6"/><circle cx="413.5" cy="1067.4" r="2.6"/><circle cx="403.8" cy="1127.0" r="2.6"/><circle cx="446.8" cy="1113.6" r="2.6"/><circle cx="361.0" cy="1053.4" r="2.6"/><circle cx="472.6" cy="1105.7" r="2.6"/><circle cx="428.0" cy="1040.6" r="2.6"/><circle cx="406.6" cy="1026.2" r="2.6"/><circle cx="374.1" cy="1064.8" r="2.6"/><circle cx="493.8" cy="1102.8" r="2.6"/><circle cx="406.1" cy="1061.0" r="2.6"/><circle cx="469.0" cy="1112.4" r="2.6"/><circle cx="477.5" cy="1103.8" r="2.6"/><circle cx="473.1" cy="1129.9" r="2.6"/><circle cx="422.6" cy="1115.3" r="2.6"/><circle cx="452.4" cy="1131.4" r="2.6"/><circle cx="470.5" cy="1101.9" r="2.6"/><circle cx="407.9" cy="1088.5" r="2.6"/><circle cx="432.2" cy="1118.1" r="2.6"/><circle cx="362.7" cy="1095.1" r="2.6"/><circle cx="464.7" cy="1122.9" r="2.6"/><circle cx="432.2" cy="1082.7" r="2.6"/><circle cx="484.2" cy="1094.6" r="2.6"/><circle cx="459.7" cy="1117.7" r="2.6"/><circle cx="427.3" cy="1133.7" r="2.6"/><circle cx="430.4" cy="1062.1" r="2.6"/><circle cx="427.3" cy="1056.6" r="2.6"/><circle cx="409.2" cy="1067.0" r="2.6"/><circle cx="476.6" cy="1080.8" r="2.6"/><circle cx="470.1" cy="1145.6" r="2.6"/><circle cx="449.8" cy="1054.3" r="2.6"/><circle cx="433.1" cy="1110.2" r="2.6"/><circle cx="421.1" cy="1087.0" r="2.6"/><circle cx="440.0" cy="1090.4" r="2.6"/><circle cx="427.4" cy="1099.8" r="2.6"/><circle cx="449.3" cy="1133.1" r="2.6"/><circle cx="442.8" cy="1098.3" r="2.6"/><circle cx="427.7" cy="1123.3" r="2.6"/><circle cx="420.8" cy="1129.3" r="2.6"/><circle cx="460.8" cy="1143.8" r="2.6"/><circle cx="449.8" cy="1087.9" r="2.6"/><circle cx="477.0" cy="1093.0" r="2.6"/><circle cx="430.6" cy="1112.1" r="2.6"/><circle cx="414.5" cy="1088.1" r="2.6"/><circle cx="421.6" cy="1088.3" r="2.6"/><circle cx="478.5" cy="1099.6" r="2.6"/><circle cx="444.5" cy="1133.4" r="2.6"/><circle cx="401.0" cy="1094.3" r="2.6"/><circle cx="505.3" cy="1086.9" r="2.6"/><circle cx="410.7" cy="1050.4" r="2.6"/><circle cx="514.5" cy="1129.1" r="2.6"/><circle cx="352.6" cy="1050.2" r="2.6"/><circle cx="374.4" cy="1107.9" r="2.6"/><circle cx="402.2" cy="1066.2" r="2.6"/><circle cx="450.4" cy="1111.2" r="2.6"/><circle cx="391.0" cy="1027.1" r="2.6"/><circle cx="440.6" cy="1128.4" r="2.6"/><circle cx="385.1" cy="1082.4" r="2.6"/><circle cx="474.7" cy="1073.0" r="2.6"/><circle cx="433.3" cy="1095.3" r="2.6"/><circle cx="470.8" cy="1140.2" r="2.6"/><circle cx="427.0" cy="1050.2" r="2.6"/><circle cx="402.7" cy="1080.1" r="2.6"/><circle cx="454.3" cy="1119.2" r="2.6"/><circle cx="419.1" cy="1071.9" r="2.6"/><circle cx="413.9" cy="1129.1" r="2.6"/><circle cx="410.4" cy="1093.1" r="2.6"/><circle cx="440.7" cy="1130.3" r="2.6"/><circle cx="411.2" cy="1032.2" r="2.6"/><circle cx="508.7" cy="1135.5" r="2.6"/><circle cx="506.8" cy="1096.4" r="2.6"/><circle cx="395.8" cy="1038.4" r="2.6"/><circle cx="437.3" cy="1088.3" r="2.6"/><circle cx="421.0" cy="1057.2" r="2.6"/><circle cx="438.4" cy="1077.5" r="2.6"/><circle cx="487.8" cy="1111.6" r="2.6"/><circle cx="441.4" cy="1095.7" r="2.6"/><circle cx="432.0" cy="1076.0" r="2.6"/><circle cx="436.9" cy="1058.9" r="2.6"/><circle cx="385.7" cy="1057.2" r="2.6"/><circle cx="423.6" cy="1099.4" r="2.6"/><circle cx="468.0" cy="1144.0" r="2.6"/><circle cx="399.4" cy="1029.7" r="2.6"/><circle cx="477.6" cy="1099.1" r="2.6"/><circle cx="438.3" cy="1093.2" r="2.6"/><circle cx="380.1" cy="1054.5" r="2.6"/><circle cx="420.8" cy="1074.2" r="2.6"/><circle cx="425.6" cy="1041.5" r="2.6"/><circle cx="361.1" cy="1086.0" r="2.6"/><circle cx="445.9" cy="1101.3" r="2.6"/><circle cx="458.9" cy="1083.1" r="2.6"/><circle cx="426.5" cy="1109.6" r="2.6"/><circle cx="478.4" cy="1111.9" r="2.6"/><circle cx="412.8" cy="1073.5" r="2.6"/><circle cx="400.2" cy="1106.6" r="2.6"/><circle cx="499.6" cy="1131.1" r="2.6"/><circle cx="434.0" cy="1071.9" r="2.6"/><circle cx="458.8" cy="1084.7" r="2.6"/><circle cx="422.8" cy="1087.9" r="2.6"/><circle cx="403.9" cy="1055.5" r="2.6"/><circle cx="414.8" cy="1096.2" r="2.6"/><circle cx="432.1" cy="1041.1" r="2.6"/><circle cx="497.0" cy="1120.5" r="2.6"/><circle cx="368.2" cy="1071.4" r="2.6"/><circle cx="436.0" cy="1091.7" r="2.6"/><circle cx="445.0" cy="1103.4" r="2.6"/><circle cx="424.8" cy="1073.1" r="2.6"/><circle cx="415.2" cy="1061.0" r="2.6"/><circle cx="465.5" cy="1119.0" r="2.6"/><circle cx="421.2" cy="1098.1" r="2.6"/><circle cx="473.0" cy="1068.6" r="2.6"/><circle cx="520.2" cy="1107.3" r="2.6"/><circle cx="418.6" cy="1078.8" r="2.6"/><circle cx="452.6" cy="1091.4" r="2.6"/><circle cx="466.0" cy="1096.9" r="2.6"/><circle cx="432.8" cy="1040.0" r="2.6"/><circle cx="459.1" cy="1138.4" r="2.6"/><circle cx="429.4" cy="1069.2" r="2.6"/><circle cx="422.3" cy="1091.1" r="2.6"/><circle cx="464.7" cy="1118.5" r="2.6"/><circle cx="387.9" cy="1111.7" r="2.6"/><circle cx="484.0" cy="1074.3" r="2.6"/><circle cx="478.3" cy="1118.8" r="2.6"/><circle cx="380.3" cy="1058.7" r="2.6"/><circle cx="458.3" cy="1078.5" r="2.6"/><circle cx="418.9" cy="1059.0" r="2.6"/><circle cx="500.9" cy="1134.7" r="2.6"/><circle cx="493.0" cy="1095.6" r="2.6"/><circle cx="439.5" cy="1076.4" r="2.6"/><circle cx="416.4" cy="1078.9" r="2.6"/><circle cx="478.5" cy="1096.2" r="2.6"/><circle cx="452.4" cy="1042.8" r="2.6"/><circle cx="452.4" cy="1087.0" r="2.6"/><circle cx="411.2" cy="1070.7" r="2.6"/><circle cx="424.7" cy="1120.3" r="2.6"/><circle cx="447.9" cy="1134.1" r="2.6"/><circle cx="457.8" cy="1084.2" r="2.6"/><circle cx="468.0" cy="1149.6" r="2.6"/><circle cx="457.8" cy="1092.1" r="2.6"/><circle cx="401.0" cy="1122.6" r="2.6"/><circle cx="427.7" cy="1070.7" r="2.6"/><circle cx="469.4" cy="1091.9" r="2.6"/><circle cx="413.8" cy="1095.2" r="2.6"/><circle cx="458.9" cy="1119.2" r="2.6"/><circle cx="388.9" cy="1116.4" r="2.6"/><circle cx="428.8" cy="1092.8" r="2.6"/><circle cx="422.0" cy="1099.6" r="2.6"/><circle cx="456.7" cy="1130.1" r="2.6"/><circle cx="420.6" cy="1045.3" r="2.6"/><circle cx="471.3" cy="1098.9" r="2.6"/><circle cx="393.5" cy="1065.1" r="2.6"/><circle cx="450.8" cy="1112.9" r="2.6"/><circle cx="434.3" cy="1087.9" r="2.6"/><circle cx="438.0" cy="1103.2" r="2.6"/><circle cx="453.4" cy="1091.3" r="2.6"/><circle cx="442.0" cy="1071.6" r="2.6"/><circle cx="484.9" cy="1131.0" r="2.6"/><circle cx="402.7" cy="1055.8" r="2.6"/><circle cx="452.3" cy="1074.0" r="2.6"/><circle cx="433.1" cy="1071.9" r="2.6"/><circle cx="472.1" cy="1101.4" r="2.6"/><circle cx="464.2" cy="1081.9" r="2.6"/><circle cx="455.2" cy="1108.3" r="2.6"/><circle cx="509.0" cy="1089.5" r="2.6"/><circle cx="450.6" cy="1060.0" r="2.6"/><circle cx="377.5" cy="1091.0" r="2.6"/><circle cx="471.1" cy="1109.9" r="2.6"/><circle cx="463.6" cy="1083.3" r="2.6"/><circle cx="457.2" cy="1099.6" r="2.6"/><circle cx="443.0" cy="1072.6" r="2.6"/><circle cx="419.5" cy="1075.2" r="2.6"/><circle cx="443.8" cy="1108.1" r="2.6"/><circle cx="419.7" cy="1074.7" r="2.6"/><circle cx="461.3" cy="1115.5" r="2.6"/><circle cx="467.5" cy="1105.8" r="2.6"/><circle cx="372.2" cy="1064.9" r="2.6"/><circle cx="407.7" cy="1047.2" r="2.6"/><circle cx="451.0" cy="1119.0" r="2.6"/><circle cx="459.1" cy="1140.0" r="2.6"/><circle cx="425.3" cy="1113.3" r="2.6"/><circle cx="484.4" cy="1100.8" r="2.6"/><circle cx="453.0" cy="1137.2" r="2.6"/><circle cx="395.1" cy="1077.2" r="2.6"/><circle cx="400.9" cy="1068.6" r="2.6"/><circle cx="386.5" cy="1077.1" r="2.6"/><circle cx="476.7" cy="1087.6" r="2.6"/><circle cx="495.7" cy="1115.8" r="2.6"/><circle cx="436.2" cy="1103.4" r="2.6"/><circle cx="436.6" cy="1003.1" r="2.6"/><circle cx="495.8" cy="1015.0" r="2.6"/><circle cx="451.1" cy="1016.3" r="2.6"/><circle cx="454.2" cy="1019.8" r="2.6"/><circle cx="463.4" cy="1020.7" r="2.6"/><circle cx="401.6" cy="1018.9" r="2.6"/><circle cx="411.7" cy="1022.8" r="2.6"/><circle cx="386.3" cy="1020.7" r="2.6"/><circle cx="431.4" cy="1019.3" r="2.6"/><circle cx="407.3" cy="1027.2" r="2.6"/><circle cx="427.0" cy="1025.0" r="2.6"/><circle cx="534.3" cy="1036.9" r="2.6"/><circle cx="479.6" cy="1041.2" r="2.6"/><circle cx="488.3" cy="1060.1" r="2.6"/><circle cx="475.2" cy="1060.1" r="2.6"/><circle cx="506.7" cy="1058.8" r="2.6"/><circle cx="518.1" cy="1048.2" r="2.6"/><circle cx="519.0" cy="1053.5" r="2.6"/><circle cx="524.2" cy="1062.3" r="2.6"/><circle cx="515.5" cy="1070.1" r="2.6"/><circle cx="525.5" cy="1074.5" r="2.6"/><circle cx="538.7" cy="1077.6" r="2.6"/><circle cx="532.1" cy="1084.2" r="2.6"/><circle cx="543.1" cy="1075.4" r="2.6"/><circle cx="340.7" cy="1036.4" r="2.6"/><circle cx="318.8" cy="1040.8" r="2.6"/><circle cx="327.2" cy="1055.7" r="2.6"/><circle cx="336.4" cy="1063.6" r="2.6"/><circle cx="341.6" cy="1071.9" r="2.6"/><circle cx="356.9" cy="1049.1" r="2.6"/><circle cx="352.6" cy="1057.9" r="2.6"/><circle cx="359.1" cy="1064.5" r="2.6"/><circle cx="348.2" cy="1093.8" r="2.6"/><circle cx="359.1" cy="1106.1" r="2.6"/><circle cx="356.1" cy="1094.2" r="2.6"/><circle cx="378.8" cy="1036.0" r="2.6"/><circle cx="398.5" cy="1034.7" r="2.6"/><circle cx="571.5" cy="1105.2" r="2.6"/><circle cx="581.2" cy="1103.0" r="2.6"/><circle cx="540.0" cy="1107.4" r="2.6"/><circle cx="529.9" cy="1108.2" r="2.6"/><circle cx="538.7" cy="1117.0" r="2.6"/><circle cx="545.3" cy="1117.0" r="2.6"/><circle cx="558.4" cy="1122.3" r="2.6"/><circle cx="562.8" cy="1132.3" r="2.6"/><circle cx="557.1" cy="1146.8" r="2.6"/><circle cx="536.5" cy="1145.5" r="2.6"/><circle cx="571.5" cy="1158.6" r="2.6"/><circle cx="565.8" cy="1167.4" r="2.6"/><circle cx="561.9" cy="1176.1" r="2.6"/><circle cx="554.0" cy="1167.4" r="2.6"/><circle cx="545.3" cy="1165.2" r="2.6"/><circle cx="540.9" cy="1179.2" r="2.6"/><circle cx="521.2" cy="1141.1" r="2.6"/><circle cx="524.2" cy="1135.4" r="2.6"/><circle cx="514.6" cy="1131.0" r="2.6"/><circle cx="508.0" cy="1136.7" r="2.6"/><circle cx="512.4" cy="1121.4" r="2.6"/><circle cx="519.0" cy="1123.6" r="2.6"/><circle cx="525.5" cy="1123.6" r="2.6"/><circle cx="364.8" cy="1129.3" r="2.6"/><circle cx="367.9" cy="1142.4" r="2.6"/><circle cx="376.6" cy="1117.0" r="2.6"/><circle cx="392.0" cy="1132.3" r="2.6"/><circle cx="402.9" cy="1134.5" r="2.6"/><circle cx="386.7" cy="1133.6" r="2.6"/><circle cx="402.0" cy="1173.9" r="2.6"/><circle cx="402.9" cy="1190.6" r="2.6"/><circle cx="411.7" cy="1166.5" r="2.6"/><circle cx="410.4" cy="1177.4" r="2.6"/><circle cx="422.6" cy="1181.8" r="2.6"/><circle cx="431.4" cy="1168.2" r="2.6"/><circle cx="436.6" cy="1171.8" r="2.6"/><circle cx="442.3" cy="1170.9" r="2.6"/><circle cx="449.8" cy="1190.6" r="2.6"/><circle cx="455.5" cy="1173.1" r="2.6"/><circle cx="456.8" cy="1180.5" r="2.6"/><circle cx="458.5" cy="1184.9" r="2.6"/><circle cx="462.9" cy="1201.5" r="2.6"/><circle cx="468.6" cy="1198.0" r="2.6"/><circle cx="469.5" cy="1191.5" r="2.6"/><circle cx="475.2" cy="1179.6" r="2.6"/><circle cx="477.4" cy="1206.8" r="2.6"/><circle cx="490.5" cy="1205.9" r="2.6"/><circle cx="479.6" cy="1171.8" r="2.6"/><circle cx="489.2" cy="1172.6" r="2.6"/><circle cx="494.9" cy="1169.6" r="2.6"/><circle cx="499.3" cy="1178.3" r="2.6"/><circle cx="503.6" cy="1182.7" r="2.6"/><circle cx="505.0" cy="1193.6" r="2.6"/><circle cx="508.0" cy="1214.2" r="2.6"/><circle cx="514.6" cy="1182.7" r="2.6"/><circle cx="521.2" cy="1185.8" r="2.6"/><circle cx="525.5" cy="1185.8" r="2.6"/><circle cx="524.7" cy="1199.3" r="2.6"/><circle cx="525.5" cy="1206.8" r="2.6"/><circle cx="527.7" cy="1169.6" r="2.6"/><circle cx="586.9" cy="1233.1" r="2.6"/><circle cx="469.9" cy="1163.0" r="2.6"/><circle cx="462.0" cy="1158.6" r="2.6"/><circle cx="483.9" cy="1158.6" r="2.6"/><circle cx="492.7" cy="1160.8" r="2.6"/><circle cx="501.5" cy="1163.0" r="2.6"/><circle cx="508.0" cy="1163.0" r="2.6"/><circle cx="514.6" cy="1163.0" r="2.6"/><circle cx="489.2" cy="1145.5" r="2.6"/><circle cx="501.5" cy="1143.3" r="2.6"/><circle cx="492.7" cy="1154.2" r="2.6"/><circle cx="473.0" cy="1169.6" r="2.6"/></g>
<path d="M443.6 1092.3L451.0 1099.7L443.6 1107.1L436.2 1099.7Z" fill="#fff" stroke="#000" stroke-width="1.5"/>
<path d="M437.71 1089.84L444.51 1103.64L430.91 1103.64Z" fill="#000"/>
<circle cx="117" cy="1319.30" r="2.7" fill="#a6a6a6"/>
<path d="M117 1339.40L121.6 1347.90L112.4 1347.90Z" fill="#000"/>
<path d="M420.4 1315.50L424.20 1319.30L420.4 1323.10L416.60 1319.30Z" fill="#fff" stroke="#000" stroke-width="1.3"/>
<line x1="402.0" y1="1343.00" x2="431.00" y2="1343.00" stroke="#d0d0d0" stroke-width="2.2" stroke-dasharray="10.2 8.4"/>
<g font-family="Liberation Sans, sans-serif" font-size="15.25" fill="#000"><text transform="translate(74.20 1264.50) scale(1 1.03)" text-anchor="end">-€ 5,000</text><text transform="translate(74.20 1240.00) scale(1 1.03)" text-anchor="end">-€ 4,000</text><text transform="translate(74.20 1215.51) scale(1 1.03)" text-anchor="end">-€ 3,000</text><text transform="translate(74.20 1191.01) scale(1 1.03)" text-anchor="end">-€ 2,000</text><text transform="translate(74.20 1166.52) scale(1 1.03)" text-anchor="end">-€ 1,000</text><text transform="translate(74.20 1142.02) scale(1 1.03)" text-anchor="end">€ 0</text><text transform="translate(74.20 1117.52) scale(1 1.03)" text-anchor="end">€ 1,000</text><text transform="translate(74.20 1093.03) scale(1 1.03)" text-anchor="end">€ 2,000</text><text transform="translate(74.20 1068.53) scale(1 1.03)" text-anchor="end">€ 3,000</text><text transform="translate(74.20 1044.03) scale(1 1.03)" text-anchor="end">€ 4,000</text><text transform="translate(74.20 1019.54) scale(1 1.03)" text-anchor="end">€ 5,000</text><text transform="translate(74.20 995.04) scale(1 1.03)" text-anchor="end">€ 6,000</text><text transform="translate(74.20 970.55) scale(1 1.03)" text-anchor="end">€ 7,000</text><text transform="translate(74.20 946.05) scale(1 1.03)" text-anchor="end">€ 8,000</text><text transform="translate(87.50 1158.30) scale(1 1.03)" text-anchor="middle">0.00</text><text transform="translate(160.22 1158.30) scale(1 1.03)" text-anchor="middle">0.20</text><text transform="translate(232.95 1158.30) scale(1 1.03)" text-anchor="middle">0.40</text><text transform="translate(305.68 1158.30) scale(1 1.03)" text-anchor="middle">0.60</text><text transform="translate(378.40 1158.30) scale(1 1.03)" text-anchor="middle">0.80</text><text transform="translate(451.12 1158.30) scale(1 1.03)" text-anchor="middle">1.00</text><text transform="translate(523.85 1158.30) scale(1 1.03)" text-anchor="middle">1.20</text><text transform="translate(596.58 1158.30) scale(1 1.03)" text-anchor="middle">1.40</text><text transform="translate(669.30 1158.30) scale(1 1.03)" text-anchor="middle">1.60</text><text transform="translate(377.90 1275.60) scale(1 1.03)" text-anchor="middle" font-weight="bold" font-size="15.35">Incremental QALYs</text><text transform="translate(14.60 1109.30) rotate(-90) scale(1 1.03)" text-anchor="middle" font-weight="bold" font-size="15.35">Incremental costs</text><text transform="translate(137.80 1324.90) scale(1 1.03)">Probabilistic Samples</text><text transform="translate(137.80 1348.40) scale(1 1.03)">Deterministic Mean</text><text transform="translate(442.00 1324.90) scale(1 1.03)">Probabilistic Mean</text><text transform="translate(442.00 1348.40) scale(1 1.03)">€20,000 WTP threshold</text></g>
</svg></body></html>
